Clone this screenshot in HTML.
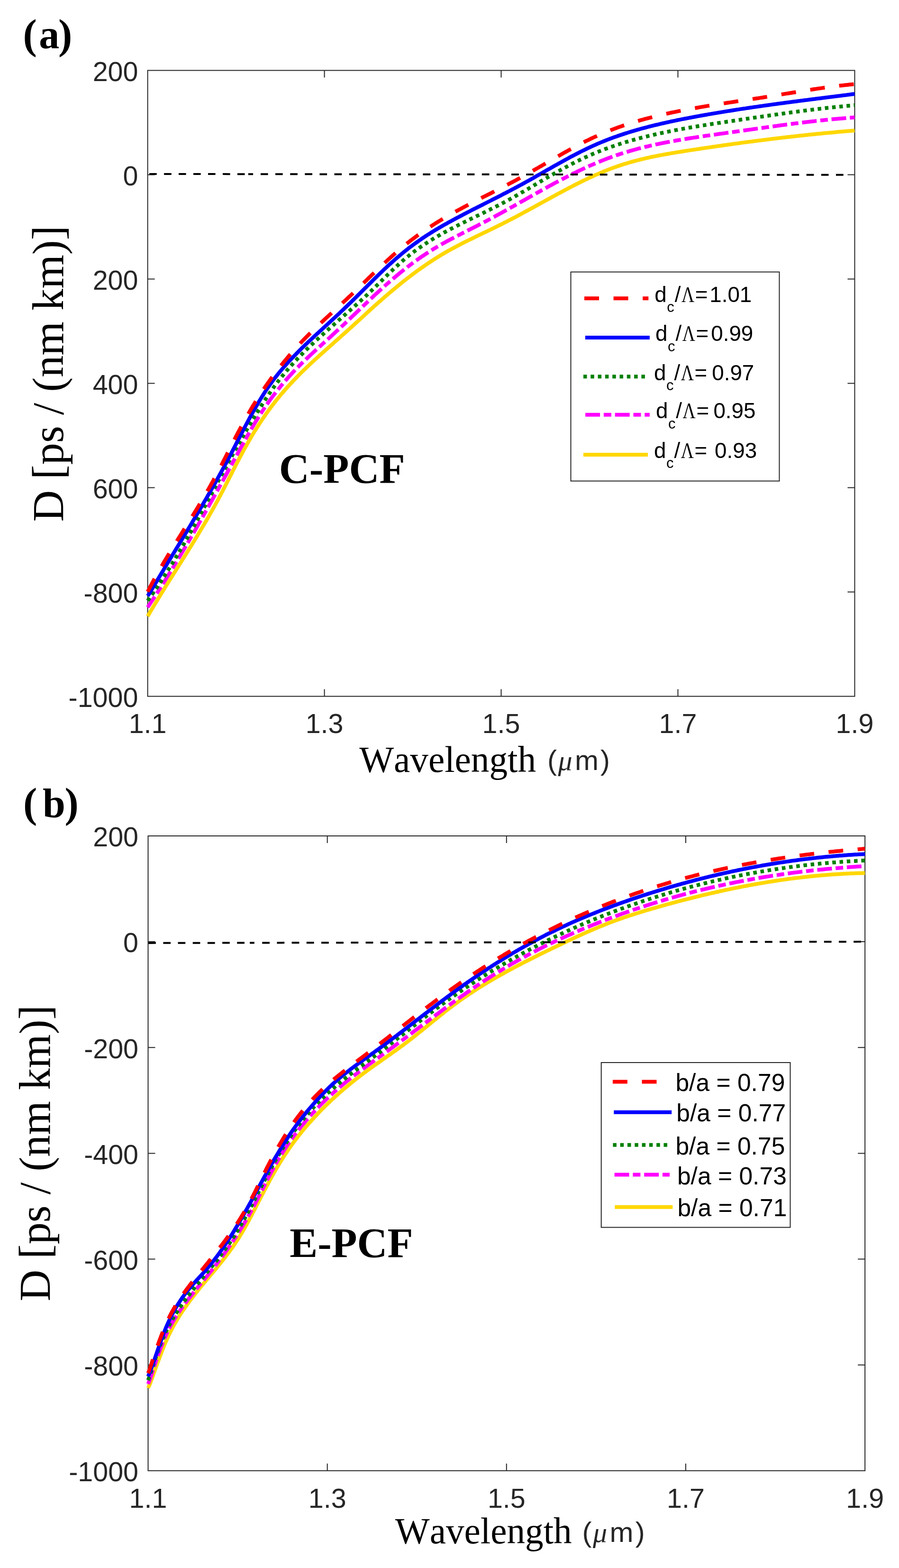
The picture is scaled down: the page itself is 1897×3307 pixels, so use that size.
<!DOCTYPE html>
<html><head><meta charset="utf-8"><title>Dispersion</title><style>html,body{margin:0;padding:0;background:#fff;}svg{display:block;} text{font-kerning:none;}</style></head><body>
<svg xmlns="http://www.w3.org/2000/svg" width="1897" height="3307" viewBox="0 0 1897 3307">
<rect width="1897" height="3307" fill="#fff"/>
<rect x="311.6" y="148.5" width="1491.9" height="1320.1" fill="none" stroke="#262626" stroke-width="2"/>
<path d="M311.6 368.5H326.6M1803.5 368.5H1788.5M311.6 588.5H326.6M1803.5 588.5H1788.5M311.6 808.5H326.6M1803.5 808.5H1788.5M311.6 1028.6H326.6M1803.5 1028.6H1788.5M311.6 1248.6H326.6M1803.5 1248.6H1788.5M684.6 1468.6V1453.6M684.6 148.5V163.5M1057.5 1468.6V1453.6M1057.5 148.5V163.5M1430.5 1468.6V1453.6M1430.5 148.5V163.5" stroke="#262626" stroke-width="2" fill="none"/>
<path d="M311.6 1299.7 L314.6 1294.6 L317.6 1289.5 L320.6 1284.5 L323.6 1279.5 L326.6 1274.5 L329.6 1269.5 L332.6 1264.6 L335.6 1259.7 L338.6 1254.8 L341.6 1250.0 L344.6 1245.1 L347.5 1240.3 L350.5 1235.5 L353.5 1230.7 L356.5 1225.9 L359.5 1221.1 L362.5 1216.3 L365.5 1211.6 L368.5 1206.8 L371.5 1202.1 L374.5 1197.3 L377.5 1192.5 L380.5 1187.8 L383.5 1183.0 L386.5 1178.2 L389.5 1173.4 L392.5 1168.6 L395.5 1163.8 L398.5 1159.0 L401.5 1154.2 L404.5 1149.3 L407.5 1144.5 L410.5 1139.6 L413.5 1134.7 L416.5 1129.8 L419.4 1124.8 L422.4 1119.8 L425.4 1114.8 L428.4 1109.8 L431.4 1104.7 L434.4 1099.6 L437.4 1094.4 L440.4 1089.2 L443.4 1083.9 L446.4 1078.6 L449.4 1073.3 L452.4 1067.9 L455.4 1062.4 L458.4 1056.9 L461.4 1051.3 L464.4 1045.6 L467.4 1039.9 L470.4 1034.2 L473.4 1028.4 L476.4 1022.6 L479.4 1016.7 L482.4 1010.9 L485.4 1005.0 L488.4 999.1 L491.3 993.3 L494.3 987.4 L497.3 981.6 L500.3 975.9 L503.3 970.1 L506.3 964.4 L509.3 958.8 L512.3 953.2 L515.3 947.7 L518.3 942.3 L521.3 936.9 L524.3 931.6 L527.3 926.4 L530.3 921.3 L533.3 916.3 L536.3 911.3 L539.3 906.5 L542.3 901.7 L545.3 897.0 L548.3 892.4 L551.3 887.9 L554.3 883.4 L557.3 879.1 L560.2 874.8 L563.2 870.5 L566.2 866.4 L569.2 862.3 L572.2 858.2 L575.2 854.3 L578.2 850.4 L581.2 846.5 L584.2 842.8 L587.2 839.1 L590.2 835.4 L593.2 831.8 L596.2 828.3 L599.2 824.8 L602.2 821.4 L605.2 818.0 L608.2 814.7 L611.2 811.4 L614.2 808.2 L617.2 805.0 L620.2 801.8 L623.2 798.7 L626.2 795.6 L629.2 792.5 L632.1 789.5 L635.1 786.5 L638.1 783.6 L641.1 780.7 L644.1 777.8 L647.1 774.9 L650.1 772.1 L653.1 769.2 L656.1 766.4 L659.1 763.6 L662.1 760.9 L665.1 758.1 L668.1 755.4 L671.1 752.7 L674.1 749.9 L677.1 747.2 L680.1 744.5 L683.1 741.9 L686.1 739.2 L689.1 736.5 L692.1 733.9 L695.1 731.2 L698.1 728.5 L701.1 725.9 L704.0 723.3 L707.0 720.6 L710.0 718.0 L713.0 715.3 L716.0 712.7 L719.0 710.0 L722.0 707.3 L725.0 704.7 L728.0 702.0 L731.0 699.3 L734.0 696.6 L737.0 693.9 L740.0 691.2 L743.0 688.5 L746.0 685.8 L749.0 683.0 L752.0 680.3 L755.0 677.6 L758.0 674.8 L761.0 672.1 L764.0 669.3 L767.0 666.6 L770.0 663.9 L773.0 661.1 L775.9 658.4 L778.9 655.7 L781.9 652.9 L784.9 650.2 L787.9 647.5 L790.9 644.8 L793.9 642.2 L796.9 639.5 L799.9 636.8 L802.9 634.2 L805.9 631.6 L808.9 629.0 L811.9 626.3 L814.9 623.8 L817.9 621.2 L820.9 618.6 L823.9 616.1 L826.9 613.6 L829.9 611.0 L832.9 608.6 L835.9 606.1 L838.9 603.6 L841.9 601.2 L844.8 598.7 L847.8 596.3 L850.8 593.9 L853.8 591.6 L856.8 589.2 L859.8 586.9 L862.8 584.6 L865.8 582.3 L868.8 580.0 L871.8 577.8 L874.8 575.5 L877.8 573.3 L880.8 571.1 L883.8 569.0 L886.8 566.8 L889.8 564.7 L892.8 562.6 L895.8 560.5 L898.8 558.5 L901.8 556.4 L904.8 554.4 L907.8 552.4 L910.8 550.5 L913.8 548.5 L916.7 546.6 L919.7 544.7 L922.7 542.8 L925.7 541.0 L928.7 539.1 L931.7 537.3 L934.7 535.5 L937.7 533.8 L940.7 532.0 L943.7 530.3 L946.7 528.6 L949.7 527.0 L952.7 525.3 L955.7 523.7 L958.7 522.1 L961.7 520.5 L964.7 518.9 L967.7 517.3 L970.7 515.8 L973.7 514.2 L976.7 512.7 L979.7 511.2 L982.7 509.7 L985.7 508.2 L988.6 506.7 L991.6 505.2 L994.6 503.8 L997.6 502.3 L1000.6 500.8 L1003.6 499.4 L1006.6 497.9 L1009.6 496.5 L1012.6 495.0 L1015.6 493.6 L1018.6 492.2 L1021.6 490.7 L1024.6 489.3 L1027.6 487.8 L1030.6 486.4 L1033.6 485.0 L1036.6 483.5 L1039.6 482.1 L1042.6 480.6 L1045.6 479.1 L1048.6 477.7 L1051.6 476.2 L1054.6 474.7 L1057.6 473.2 L1060.5 471.7 L1063.5 470.2 L1066.5 468.7 L1069.5 467.1 L1072.5 465.6 L1075.5 464.0 L1078.5 462.5 L1081.5 460.9 L1084.5 459.3 L1087.5 457.8 L1090.5 456.2 L1093.5 454.6 L1096.5 453.0 L1099.5 451.4 L1102.5 449.8 L1105.5 448.1 L1108.5 446.5 L1111.5 444.9 L1114.5 443.3 L1117.5 441.6 L1120.5 440.0 L1123.5 438.4 L1126.5 436.7 L1129.4 435.1 L1132.4 433.4 L1135.4 431.8 L1138.4 430.1 L1141.4 428.5 L1144.4 426.8 L1147.4 425.2 L1150.4 423.5 L1153.4 421.9 L1156.4 420.2 L1159.4 418.6 L1162.4 417.0 L1165.4 415.3 L1168.4 413.7 L1171.4 412.1 L1174.4 410.4 L1177.4 408.8 L1180.4 407.2 L1183.4 405.6 L1186.4 404.0 L1189.4 402.4 L1192.4 400.8 L1195.4 399.2 L1198.4 397.6 L1201.3 396.1 L1204.3 394.5 L1207.3 393.0 L1210.3 391.4 L1213.3 389.9 L1216.3 388.4 L1219.3 386.9 L1222.3 385.4 L1225.3 383.9 L1228.3 382.4 L1231.3 380.9 L1234.3 379.5 L1237.3 378.1 L1240.3 376.6 L1243.3 375.2 L1246.3 373.8 L1249.3 372.5 L1252.3 371.1 L1255.3 369.7 L1258.3 368.4 L1261.3 367.1 L1264.3 365.8 L1267.3 364.5 L1270.3 363.3 L1273.2 362.0 L1276.2 360.8 L1279.2 359.6 L1282.2 358.4 L1285.2 357.2 L1288.2 356.1 L1291.2 354.9 L1294.2 353.8 L1297.2 352.7 L1300.2 351.7 L1303.2 350.6 L1306.2 349.6 L1309.2 348.6 L1312.2 347.6 L1315.2 346.6 L1318.2 345.7 L1321.2 344.8 L1324.2 343.9 L1327.2 343.0 L1330.2 342.1 L1333.2 341.3 L1336.2 340.4 L1339.2 339.6 L1342.1 338.8 L1345.1 338.0 L1348.1 337.3 L1351.1 336.5 L1354.1 335.8 L1357.1 335.1 L1360.1 334.4 L1363.1 333.7 L1366.1 333.0 L1369.1 332.3 L1372.1 331.7 L1375.1 331.0 L1378.1 330.4 L1381.1 329.8 L1384.1 329.2 L1387.1 328.6 L1390.1 328.0 L1393.1 327.4 L1396.1 326.9 L1399.1 326.3 L1402.1 325.8 L1405.1 325.2 L1408.1 324.7 L1411.1 324.2 L1414.0 323.6 L1417.0 323.1 L1420.0 322.6 L1423.0 322.1 L1426.0 321.6 L1429.0 321.1 L1432.0 320.6 L1435.0 320.2 L1438.0 319.7 L1441.0 319.2 L1444.0 318.7 L1447.0 318.3 L1450.0 317.8 L1453.0 317.4 L1456.0 316.9 L1459.0 316.4 L1462.0 316.0 L1465.0 315.5 L1468.0 315.1 L1471.0 314.6 L1474.0 314.2 L1477.0 313.7 L1480.0 313.3 L1483.0 312.8 L1485.9 312.4 L1488.9 311.9 L1491.9 311.5 L1494.9 311.1 L1497.9 310.6 L1500.9 310.2 L1503.9 309.7 L1506.9 309.3 L1509.9 308.9 L1512.9 308.4 L1515.9 308.0 L1518.9 307.6 L1521.9 307.2 L1524.9 306.7 L1527.9 306.3 L1530.9 305.9 L1533.9 305.5 L1536.9 305.0 L1539.9 304.6 L1542.9 304.2 L1545.9 303.8 L1548.9 303.4 L1551.9 303.0 L1554.8 302.6 L1557.8 302.2 L1560.8 301.7 L1563.8 301.3 L1566.8 300.9 L1569.8 300.5 L1572.8 300.1 L1575.8 299.7 L1578.8 299.3 L1581.8 299.0 L1584.8 298.6 L1587.8 298.2 L1590.8 297.8 L1593.8 297.4 L1596.8 297.0 L1599.8 296.6 L1602.8 296.2 L1605.8 295.9 L1608.8 295.5 L1611.8 295.1 L1614.8 294.7 L1617.8 294.4 L1620.8 294.0 L1623.8 293.6 L1626.7 293.3 L1629.7 292.9 L1632.7 292.5 L1635.7 292.2 L1638.7 291.8 L1641.7 291.5 L1644.7 291.1 L1647.7 290.7 L1650.7 290.4 L1653.7 290.0 L1656.7 289.7 L1659.7 289.3 L1662.7 289.0 L1665.7 288.7 L1668.7 288.3 L1671.7 288.0 L1674.7 287.7 L1677.7 287.3 L1680.7 287.0 L1683.7 286.7 L1686.7 286.3 L1689.7 286.0 L1692.7 285.7 L1695.7 285.4 L1698.6 285.0 L1701.6 284.7 L1704.6 284.4 L1707.6 284.1 L1710.6 283.8 L1713.6 283.5 L1716.6 283.2 L1719.6 282.9 L1722.6 282.6 L1725.6 282.3 L1728.6 282.0 L1731.6 281.7 L1734.6 281.4 L1737.6 281.1 L1740.6 280.8 L1743.6 280.5 L1746.6 280.3 L1749.6 280.0 L1752.6 279.7 L1755.6 279.4 L1758.6 279.2 L1761.6 278.9 L1764.6 278.6 L1767.6 278.3 L1770.5 278.1 L1773.5 277.8 L1776.5 277.6 L1779.5 277.3 L1782.5 277.1 L1785.5 276.8 L1788.5 276.5 L1791.5 276.3 L1794.5 276.1 L1797.5 275.8 L1800.5 275.6 L1803.5 275.3" stroke="#ffd700" stroke-width="8" fill="none" stroke-linecap="butt" stroke-linejoin="round"/>
<path d="M311.6 1280.7 L314.6 1276.4 L317.6 1271.9 L320.6 1267.3 L323.6 1262.7 L326.6 1258.1 L329.6 1253.5 L332.6 1248.9 L335.6 1244.2 L338.6 1239.5 L341.6 1234.8 L344.6 1230.0 L347.5 1225.3 L350.5 1220.5 L353.5 1215.7 L356.5 1210.8 L359.5 1206.0 L362.5 1201.1 L365.5 1196.2 L368.5 1191.3 L371.5 1186.3 L374.5 1181.4 L377.5 1176.4 L380.5 1171.4 L383.5 1166.4 L386.5 1161.3 L389.5 1156.2 L392.5 1151.2 L395.5 1146.1 L398.5 1140.9 L401.5 1135.8 L404.5 1130.6 L407.5 1125.5 L410.5 1120.3 L413.5 1115.1 L416.5 1109.8 L419.4 1104.6 L422.4 1099.3 L425.4 1094.0 L428.4 1088.8 L431.4 1083.5 L434.4 1078.1 L437.4 1072.8 L440.4 1067.5 L443.4 1062.1 L446.4 1056.7 L449.4 1051.3 L452.4 1046.0 L455.4 1040.6 L458.4 1035.1 L461.4 1029.7 L464.4 1024.3 L467.4 1018.8 L470.4 1013.4 L473.4 1007.9 L476.4 1002.5 L479.4 997.0 L482.4 991.5 L485.4 986.1 L488.4 980.6 L491.3 975.1 L494.3 969.6 L497.3 964.1 L500.3 958.6 L503.3 953.1 L506.3 947.6 L509.3 942.1 L512.3 936.7 L515.3 931.3 L518.3 925.9 L521.3 920.5 L524.3 915.2 L527.3 910.0 L530.3 904.8 L533.3 899.7 L536.3 894.6 L539.3 889.7 L542.3 884.8 L545.3 880.0 L548.3 875.3 L551.3 870.6 L554.3 866.1 L557.3 861.6 L560.2 857.2 L563.2 852.9 L566.2 848.6 L569.2 844.5 L572.2 840.4 L575.2 836.4 L578.2 832.4 L581.2 828.5 L584.2 824.7 L587.2 820.9 L590.2 817.2 L593.2 813.5 L596.2 809.9 L599.2 806.4 L602.2 802.9 L605.2 799.5 L608.2 796.1 L611.2 792.8 L614.2 789.5 L617.2 786.3 L620.2 783.1 L623.2 780.0 L626.2 776.9 L629.2 773.9 L632.1 770.9 L635.1 767.9 L638.1 764.9 L641.1 762.0 L644.1 759.2 L647.1 756.3 L650.1 753.5 L653.1 750.6 L656.1 747.8 L659.1 745.1 L662.1 742.3 L665.1 739.6 L668.1 736.8 L671.1 734.1 L674.1 731.4 L677.1 728.7 L680.1 725.9 L683.1 723.2 L686.1 720.5 L689.1 717.8 L692.1 715.1 L695.1 712.4 L698.1 709.7 L701.1 707.0 L704.0 704.2 L707.0 701.5 L710.0 698.7 L713.0 696.0 L716.0 693.2 L719.0 690.4 L722.0 687.6 L725.0 684.8 L728.0 682.0 L731.0 679.1 L734.0 676.3 L737.0 673.4 L740.0 670.6 L743.0 667.7 L746.0 664.9 L749.0 662.0 L752.0 659.1 L755.0 656.3 L758.0 653.4 L761.0 650.5 L764.0 647.7 L767.0 644.8 L770.0 642.0 L773.0 639.1 L775.9 636.3 L778.9 633.4 L781.9 630.6 L784.9 627.8 L787.9 625.0 L790.9 622.2 L793.9 619.4 L796.9 616.7 L799.9 613.9 L802.9 611.2 L805.9 608.5 L808.9 605.8 L811.9 603.1 L814.9 600.4 L817.9 597.8 L820.9 595.2 L823.9 592.6 L826.9 590.0 L829.9 587.4 L832.9 584.9 L835.9 582.4 L838.9 579.9 L841.9 577.4 L844.8 575.0 L847.8 572.6 L850.8 570.2 L853.8 567.8 L856.8 565.5 L859.8 563.1 L862.8 560.8 L865.8 558.6 L868.8 556.3 L871.8 554.1 L874.8 551.9 L877.8 549.7 L880.8 547.6 L883.8 545.5 L886.8 543.4 L889.8 541.3 L892.8 539.3 L895.8 537.3 L898.8 535.3 L901.8 533.3 L904.8 531.4 L907.8 529.5 L910.8 527.6 L913.8 525.8 L916.7 524.0 L919.7 522.2 L922.7 520.4 L925.7 518.7 L928.7 517.0 L931.7 515.3 L934.7 513.6 L937.7 511.9 L940.7 510.3 L943.7 508.6 L946.7 507.0 L949.7 505.4 L952.7 503.8 L955.7 502.3 L958.7 500.7 L961.7 499.1 L964.7 497.6 L967.7 496.0 L970.7 494.5 L973.7 493.0 L976.7 491.4 L979.7 489.9 L982.7 488.4 L985.7 486.9 L988.6 485.4 L991.6 483.9 L994.6 482.3 L997.6 480.8 L1000.6 479.3 L1003.6 477.8 L1006.6 476.3 L1009.6 474.7 L1012.6 473.2 L1015.6 471.6 L1018.6 470.1 L1021.6 468.5 L1024.6 467.0 L1027.6 465.4 L1030.6 463.8 L1033.6 462.2 L1036.6 460.6 L1039.6 459.0 L1042.6 457.4 L1045.6 455.8 L1048.6 454.1 L1051.6 452.5 L1054.6 450.8 L1057.6 449.2 L1060.5 447.5 L1063.5 445.9 L1066.5 444.2 L1069.5 442.6 L1072.5 440.9 L1075.5 439.2 L1078.5 437.5 L1081.5 435.9 L1084.5 434.2 L1087.5 432.5 L1090.5 430.8 L1093.5 429.1 L1096.5 427.4 L1099.5 425.7 L1102.5 424.0 L1105.5 422.4 L1108.5 420.7 L1111.5 419.0 L1114.5 417.3 L1117.5 415.6 L1120.5 413.9 L1123.5 412.2 L1126.5 410.5 L1129.4 408.9 L1132.4 407.2 L1135.4 405.5 L1138.4 403.9 L1141.4 402.2 L1144.4 400.5 L1147.4 398.9 L1150.4 397.2 L1153.4 395.6 L1156.4 393.9 L1159.4 392.3 L1162.4 390.7 L1165.4 389.0 L1168.4 387.4 L1171.4 385.8 L1174.4 384.2 L1177.4 382.6 L1180.4 381.1 L1183.4 379.5 L1186.4 377.9 L1189.4 376.4 L1192.4 374.8 L1195.4 373.3 L1198.4 371.7 L1201.3 370.2 L1204.3 368.7 L1207.3 367.2 L1210.3 365.7 L1213.3 364.3 L1216.3 362.8 L1219.3 361.3 L1222.3 359.9 L1225.3 358.5 L1228.3 357.1 L1231.3 355.7 L1234.3 354.3 L1237.3 352.9 L1240.3 351.6 L1243.3 350.2 L1246.3 348.9 L1249.3 347.6 L1252.3 346.3 L1255.3 345.0 L1258.3 343.7 L1261.3 342.5 L1264.3 341.2 L1267.3 340.0 L1270.3 338.8 L1273.2 337.6 L1276.2 336.4 L1279.2 335.3 L1282.2 334.1 L1285.2 333.0 L1288.2 331.9 L1291.2 330.8 L1294.2 329.7 L1297.2 328.7 L1300.2 327.6 L1303.2 326.6 L1306.2 325.6 L1309.2 324.6 L1312.2 323.7 L1315.2 322.7 L1318.2 321.8 L1321.2 320.9 L1324.2 320.0 L1327.2 319.1 L1330.2 318.2 L1333.2 317.3 L1336.2 316.5 L1339.2 315.7 L1342.1 314.8 L1345.1 314.0 L1348.1 313.2 L1351.1 312.5 L1354.1 311.7 L1357.1 311.0 L1360.1 310.2 L1363.1 309.5 L1366.1 308.8 L1369.1 308.1 L1372.1 307.4 L1375.1 306.7 L1378.1 306.0 L1381.1 305.4 L1384.1 304.7 L1387.1 304.1 L1390.1 303.4 L1393.1 302.8 L1396.1 302.2 L1399.1 301.6 L1402.1 301.0 L1405.1 300.4 L1408.1 299.8 L1411.1 299.3 L1414.0 298.7 L1417.0 298.1 L1420.0 297.6 L1423.0 297.1 L1426.0 296.5 L1429.0 296.0 L1432.0 295.5 L1435.0 295.0 L1438.0 294.4 L1441.0 293.9 L1444.0 293.4 L1447.0 293.0 L1450.0 292.5 L1453.0 292.0 L1456.0 291.5 L1459.0 291.0 L1462.0 290.6 L1465.0 290.1 L1468.0 289.7 L1471.0 289.2 L1474.0 288.8 L1477.0 288.3 L1480.0 287.9 L1483.0 287.4 L1485.9 287.0 L1488.9 286.5 L1491.9 286.1 L1494.9 285.7 L1497.9 285.3 L1500.9 284.8 L1503.9 284.4 L1506.9 284.0 L1509.9 283.6 L1512.9 283.1 L1515.9 282.7 L1518.9 282.3 L1521.9 281.9 L1524.9 281.5 L1527.9 281.1 L1530.9 280.6 L1533.9 280.2 L1536.9 279.8 L1539.9 279.4 L1542.9 279.0 L1545.9 278.6 L1548.9 278.1 L1551.9 277.7 L1554.8 277.3 L1557.8 276.9 L1560.8 276.4 L1563.8 276.0 L1566.8 275.6 L1569.8 275.2 L1572.8 274.8 L1575.8 274.3 L1578.8 273.9 L1581.8 273.5 L1584.8 273.1 L1587.8 272.6 L1590.8 272.2 L1593.8 271.8 L1596.8 271.4 L1599.8 271.0 L1602.8 270.5 L1605.8 270.1 L1608.8 269.7 L1611.8 269.3 L1614.8 268.9 L1617.8 268.4 L1620.8 268.0 L1623.8 267.6 L1626.7 267.2 L1629.7 266.8 L1632.7 266.4 L1635.7 266.0 L1638.7 265.6 L1641.7 265.1 L1644.7 264.7 L1647.7 264.3 L1650.7 263.9 L1653.7 263.5 L1656.7 263.1 L1659.7 262.7 L1662.7 262.4 L1665.7 262.0 L1668.7 261.6 L1671.7 261.2 L1674.7 260.8 L1677.7 260.4 L1680.7 260.0 L1683.7 259.7 L1686.7 259.3 L1689.7 258.9 L1692.7 258.5 L1695.7 258.2 L1698.6 257.8 L1701.6 257.5 L1704.6 257.1 L1707.6 256.8 L1710.6 256.4 L1713.6 256.1 L1716.6 255.7 L1719.6 255.4 L1722.6 255.0 L1725.6 254.7 L1728.6 254.4 L1731.6 254.0 L1734.6 253.7 L1737.6 253.4 L1740.6 253.1 L1743.6 252.8 L1746.6 252.5 L1749.6 252.2 L1752.6 251.9 L1755.6 251.6 L1758.6 251.3 L1761.6 251.0 L1764.6 250.7 L1767.6 250.5 L1770.5 250.2 L1773.5 249.9 L1776.5 249.7 L1779.5 249.4 L1782.5 249.2 L1785.5 248.9 L1788.5 248.7 L1791.5 248.4 L1794.5 248.2 L1797.5 248.0 L1800.5 247.8 L1803.5 247.5" stroke="#ff00ff" stroke-width="8" fill="none" stroke-linecap="butt" stroke-linejoin="round" stroke-dasharray="31 7.8 16 7.8" stroke-dashoffset="4"/>
<path d="M311.6 1266.9 L314.6 1262.7 L317.6 1258.5 L320.6 1254.2 L323.6 1249.9 L326.6 1245.6 L329.6 1241.2 L332.6 1236.7 L335.6 1232.3 L338.6 1227.7 L341.6 1223.2 L344.6 1218.6 L347.5 1213.9 L350.5 1209.2 L353.5 1204.5 L356.5 1199.7 L359.5 1194.9 L362.5 1190.1 L365.5 1185.2 L368.5 1180.2 L371.5 1175.2 L374.5 1170.2 L377.5 1165.2 L380.5 1160.1 L383.5 1155.0 L386.5 1149.8 L389.5 1144.6 L392.5 1139.4 L395.5 1134.1 L398.5 1128.8 L401.5 1123.5 L404.5 1118.2 L407.5 1112.8 L410.5 1107.4 L413.5 1101.9 L416.5 1096.5 L419.4 1091.0 L422.4 1085.5 L425.4 1080.0 L428.4 1074.5 L431.4 1069.0 L434.4 1063.4 L437.4 1057.9 L440.4 1052.3 L443.4 1046.7 L446.4 1041.1 L449.4 1035.6 L452.4 1030.0 L455.4 1024.4 L458.4 1018.8 L461.4 1013.2 L464.4 1007.6 L467.4 1002.1 L470.4 996.5 L473.4 991.0 L476.4 985.5 L479.4 979.9 L482.4 974.4 L485.4 969.0 L488.4 963.5 L491.3 958.1 L494.3 952.7 L497.3 947.3 L500.3 941.9 L503.3 936.6 L506.3 931.3 L509.3 926.0 L512.3 920.8 L515.3 915.5 L518.3 910.4 L521.3 905.2 L524.3 900.1 L527.3 895.0 L530.3 890.0 L533.3 885.0 L536.3 880.1 L539.3 875.1 L542.3 870.3 L545.3 865.4 L548.3 860.7 L551.3 855.9 L554.3 851.3 L557.3 846.6 L560.2 842.1 L563.2 837.6 L566.2 833.1 L569.2 828.8 L572.2 824.4 L575.2 820.2 L578.2 816.0 L581.2 811.9 L584.2 807.9 L587.2 803.9 L590.2 800.0 L593.2 796.2 L596.2 792.4 L599.2 788.7 L602.2 785.1 L605.2 781.6 L608.2 778.1 L611.2 774.7 L614.2 771.3 L617.2 768.0 L620.2 764.7 L623.2 761.5 L626.2 758.3 L629.2 755.1 L632.1 752.0 L635.1 749.0 L638.1 745.9 L641.1 742.9 L644.1 740.0 L647.1 737.0 L650.1 734.1 L653.1 731.2 L656.1 728.4 L659.1 725.5 L662.1 722.7 L665.1 719.9 L668.1 717.1 L671.1 714.4 L674.1 711.6 L677.1 708.9 L680.1 706.2 L683.1 703.5 L686.1 700.8 L689.1 698.1 L692.1 695.5 L695.1 692.8 L698.1 690.1 L701.1 687.5 L704.0 684.9 L707.0 682.2 L710.0 679.6 L713.0 677.0 L716.0 674.3 L719.0 671.7 L722.0 669.1 L725.0 666.4 L728.0 663.8 L731.0 661.2 L734.0 658.5 L737.0 655.9 L740.0 653.2 L743.0 650.6 L746.0 647.9 L749.0 645.2 L752.0 642.5 L755.0 639.8 L758.0 637.1 L761.0 634.4 L764.0 631.6 L767.0 628.9 L770.0 626.1 L773.0 623.3 L775.9 620.5 L778.9 617.6 L781.9 614.8 L784.9 611.9 L787.9 609.0 L790.9 606.1 L793.9 603.1 L796.9 600.2 L799.9 597.2 L802.9 594.3 L805.9 591.3 L808.9 588.4 L811.9 585.4 L814.9 582.5 L817.9 579.5 L820.9 576.6 L823.9 573.7 L826.9 570.9 L829.9 568.0 L832.9 565.2 L835.9 562.4 L838.9 559.7 L841.9 557.0 L844.8 554.3 L847.8 551.7 L850.8 549.1 L853.8 546.5 L856.8 544.0 L859.8 541.6 L862.8 539.2 L865.8 536.8 L868.8 534.5 L871.8 532.2 L874.8 529.9 L877.8 527.7 L880.8 525.6 L883.8 523.5 L886.8 521.4 L889.8 519.3 L892.8 517.3 L895.8 515.3 L898.8 513.3 L901.8 511.4 L904.8 509.5 L907.8 507.6 L910.8 505.8 L913.8 503.9 L916.7 502.1 L919.7 500.3 L922.7 498.6 L925.7 496.9 L928.7 495.2 L931.7 493.5 L934.7 491.8 L937.7 490.1 L940.7 488.5 L943.7 486.9 L946.7 485.3 L949.7 483.7 L952.7 482.1 L955.7 480.6 L958.7 479.0 L961.7 477.5 L964.7 476.0 L967.7 474.5 L970.7 473.0 L973.7 471.5 L976.7 470.0 L979.7 468.5 L982.7 467.1 L985.7 465.6 L988.6 464.1 L991.6 462.7 L994.6 461.2 L997.6 459.8 L1000.6 458.3 L1003.6 456.9 L1006.6 455.4 L1009.6 454.0 L1012.6 452.5 L1015.6 451.0 L1018.6 449.6 L1021.6 448.1 L1024.6 446.7 L1027.6 445.2 L1030.6 443.7 L1033.6 442.2 L1036.6 440.7 L1039.6 439.2 L1042.6 437.7 L1045.6 436.2 L1048.6 434.7 L1051.6 433.2 L1054.6 431.6 L1057.6 430.0 L1060.5 428.5 L1063.5 426.9 L1066.5 425.3 L1069.5 423.6 L1072.5 422.0 L1075.5 420.4 L1078.5 418.7 L1081.5 417.0 L1084.5 415.4 L1087.5 413.7 L1090.5 412.0 L1093.5 410.3 L1096.5 408.6 L1099.5 406.8 L1102.5 405.1 L1105.5 403.4 L1108.5 401.6 L1111.5 399.9 L1114.5 398.2 L1117.5 396.4 L1120.5 394.6 L1123.5 392.9 L1126.5 391.1 L1129.4 389.4 L1132.4 387.6 L1135.4 385.9 L1138.4 384.1 L1141.4 382.3 L1144.4 380.6 L1147.4 378.8 L1150.4 377.1 L1153.4 375.3 L1156.4 373.6 L1159.4 371.9 L1162.4 370.2 L1165.4 368.4 L1168.4 366.7 L1171.4 365.0 L1174.4 363.3 L1177.4 361.6 L1180.4 360.0 L1183.4 358.3 L1186.4 356.6 L1189.4 355.0 L1192.4 353.4 L1195.4 351.8 L1198.4 350.2 L1201.3 348.6 L1204.3 347.0 L1207.3 345.4 L1210.3 343.9 L1213.3 342.4 L1216.3 340.9 L1219.3 339.4 L1222.3 337.9 L1225.3 336.4 L1228.3 335.0 L1231.3 333.6 L1234.3 332.2 L1237.3 330.8 L1240.3 329.4 L1243.3 328.1 L1246.3 326.8 L1249.3 325.5 L1252.3 324.2 L1255.3 322.9 L1258.3 321.7 L1261.3 320.5 L1264.3 319.3 L1267.3 318.1 L1270.3 316.9 L1273.2 315.8 L1276.2 314.6 L1279.2 313.5 L1282.2 312.4 L1285.2 311.3 L1288.2 310.3 L1291.2 309.2 L1294.2 308.2 L1297.2 307.2 L1300.2 306.2 L1303.2 305.2 L1306.2 304.2 L1309.2 303.2 L1312.2 302.3 L1315.2 301.3 L1318.2 300.4 L1321.2 299.5 L1324.2 298.6 L1327.2 297.7 L1330.2 296.9 L1333.2 296.0 L1336.2 295.2 L1339.2 294.3 L1342.1 293.5 L1345.1 292.7 L1348.1 291.9 L1351.1 291.1 L1354.1 290.3 L1357.1 289.6 L1360.1 288.8 L1363.1 288.1 L1366.1 287.3 L1369.1 286.6 L1372.1 285.9 L1375.1 285.2 L1378.1 284.5 L1381.1 283.8 L1384.1 283.1 L1387.1 282.4 L1390.1 281.8 L1393.1 281.1 L1396.1 280.5 L1399.1 279.8 L1402.1 279.2 L1405.1 278.6 L1408.1 278.0 L1411.1 277.4 L1414.0 276.8 L1417.0 276.2 L1420.0 275.6 L1423.0 275.0 L1426.0 274.4 L1429.0 273.9 L1432.0 273.3 L1435.0 272.7 L1438.0 272.2 L1441.0 271.6 L1444.0 271.1 L1447.0 270.6 L1450.0 270.0 L1453.0 269.5 L1456.0 269.0 L1459.0 268.5 L1462.0 268.0 L1465.0 267.5 L1468.0 267.0 L1471.0 266.5 L1474.0 266.0 L1477.0 265.5 L1480.0 265.0 L1483.0 264.5 L1485.9 264.1 L1488.9 263.6 L1491.9 263.1 L1494.9 262.6 L1497.9 262.2 L1500.9 261.7 L1503.9 261.2 L1506.9 260.8 L1509.9 260.3 L1512.9 259.9 L1515.9 259.4 L1518.9 259.0 L1521.9 258.5 L1524.9 258.1 L1527.9 257.6 L1530.9 257.2 L1533.9 256.7 L1536.9 256.3 L1539.9 255.9 L1542.9 255.4 L1545.9 255.0 L1548.9 254.5 L1551.9 254.1 L1554.8 253.6 L1557.8 253.2 L1560.8 252.8 L1563.8 252.3 L1566.8 251.9 L1569.8 251.4 L1572.8 251.0 L1575.8 250.5 L1578.8 250.1 L1581.8 249.7 L1584.8 249.2 L1587.8 248.8 L1590.8 248.3 L1593.8 247.9 L1596.8 247.5 L1599.8 247.0 L1602.8 246.6 L1605.8 246.1 L1608.8 245.7 L1611.8 245.3 L1614.8 244.8 L1617.8 244.4 L1620.8 244.0 L1623.8 243.5 L1626.7 243.1 L1629.7 242.7 L1632.7 242.2 L1635.7 241.8 L1638.7 241.4 L1641.7 241.0 L1644.7 240.5 L1647.7 240.1 L1650.7 239.7 L1653.7 239.3 L1656.7 238.9 L1659.7 238.4 L1662.7 238.0 L1665.7 237.6 L1668.7 237.2 L1671.7 236.8 L1674.7 236.4 L1677.7 236.0 L1680.7 235.6 L1683.7 235.2 L1686.7 234.8 L1689.7 234.4 L1692.7 234.0 L1695.7 233.6 L1698.6 233.3 L1701.6 232.9 L1704.6 232.5 L1707.6 232.1 L1710.6 231.7 L1713.6 231.4 L1716.6 231.0 L1719.6 230.6 L1722.6 230.3 L1725.6 229.9 L1728.6 229.6 L1731.6 229.2 L1734.6 228.9 L1737.6 228.5 L1740.6 228.2 L1743.6 227.8 L1746.6 227.5 L1749.6 227.2 L1752.6 226.8 L1755.6 226.5 L1758.6 226.2 L1761.6 225.9 L1764.6 225.6 L1767.6 225.3 L1770.5 225.0 L1773.5 224.7 L1776.5 224.4 L1779.5 224.1 L1782.5 223.8 L1785.5 223.5 L1788.5 223.2 L1791.5 222.9 L1794.5 222.7 L1797.5 222.4 L1800.5 222.1 L1803.5 221.9" stroke="#008000" stroke-width="8" fill="none" stroke-linecap="butt" stroke-linejoin="round" stroke-dasharray="7.5 7.8"/>
<path d="M311.6 1256.8 L314.6 1252.7 L317.6 1247.6 L320.6 1242.6 L323.6 1237.6 L326.6 1232.6 L329.6 1227.6 L332.6 1222.6 L335.6 1217.6 L338.6 1212.6 L341.6 1207.7 L344.6 1202.7 L347.5 1197.7 L350.5 1192.8 L353.5 1187.8 L356.5 1182.9 L359.5 1177.9 L362.5 1173.0 L365.5 1168.0 L368.5 1163.1 L371.5 1158.2 L374.5 1153.2 L377.5 1148.3 L380.5 1143.3 L383.5 1138.3 L386.5 1133.4 L389.5 1128.4 L392.5 1123.4 L395.5 1118.5 L398.5 1113.5 L401.5 1108.5 L404.5 1103.5 L407.5 1098.4 L410.5 1093.4 L413.5 1088.4 L416.5 1083.3 L419.4 1078.2 L422.4 1073.2 L425.4 1068.1 L428.4 1062.9 L431.4 1057.8 L434.4 1052.7 L437.4 1047.5 L440.4 1042.3 L443.4 1037.1 L446.4 1031.8 L449.4 1026.6 L452.4 1021.3 L455.4 1016.0 L458.4 1010.6 L461.4 1005.2 L464.4 999.8 L467.4 994.4 L470.4 988.9 L473.4 983.4 L476.4 977.9 L479.4 972.3 L482.4 966.7 L485.4 961.0 L488.4 955.3 L491.3 949.6 L494.3 943.8 L497.3 938.0 L500.3 932.2 L503.3 926.4 L506.3 920.6 L509.3 914.8 L512.3 909.0 L515.3 903.2 L518.3 897.5 L521.3 891.9 L524.3 886.3 L527.3 880.7 L530.3 875.2 L533.3 869.8 L536.3 864.5 L539.3 859.2 L542.3 854.1 L545.3 849.0 L548.3 844.0 L551.3 839.2 L554.3 834.4 L557.3 829.7 L560.2 825.1 L563.2 820.6 L566.2 816.2 L569.2 811.9 L572.2 807.8 L575.2 803.7 L578.2 799.7 L581.2 795.8 L584.2 792.0 L587.2 788.2 L590.2 784.6 L593.2 781.0 L596.2 777.5 L599.2 774.0 L602.2 770.6 L605.2 767.3 L608.2 764.0 L611.2 760.8 L614.2 757.6 L617.2 754.4 L620.2 751.3 L623.2 748.2 L626.2 745.1 L629.2 742.1 L632.1 739.1 L635.1 736.2 L638.1 733.2 L641.1 730.3 L644.1 727.4 L647.1 724.6 L650.1 721.7 L653.1 718.9 L656.1 716.1 L659.1 713.3 L662.1 710.5 L665.1 707.7 L668.1 704.9 L671.1 702.2 L674.1 699.4 L677.1 696.7 L680.1 693.9 L683.1 691.2 L686.1 688.4 L689.1 685.7 L692.1 682.9 L695.1 680.2 L698.1 677.4 L701.1 674.7 L704.0 671.9 L707.0 669.2 L710.0 666.4 L713.0 663.6 L716.0 660.8 L719.0 657.9 L722.0 655.1 L725.0 652.3 L728.0 649.4 L731.0 646.5 L734.0 643.6 L737.0 640.7 L740.0 637.8 L743.0 634.9 L746.0 632.0 L749.0 629.0 L752.0 626.1 L755.0 623.1 L758.0 620.1 L761.0 617.2 L764.0 614.2 L767.0 611.2 L770.0 608.2 L773.0 605.3 L775.9 602.3 L778.9 599.3 L781.9 596.3 L784.9 593.3 L787.9 590.4 L790.9 587.4 L793.9 584.5 L796.9 581.5 L799.9 578.6 L802.9 575.7 L805.9 572.8 L808.9 569.9 L811.9 567.1 L814.9 564.3 L817.9 561.5 L820.9 558.7 L823.9 556.0 L826.9 553.3 L829.9 550.6 L832.9 547.9 L835.9 545.3 L838.9 542.7 L841.9 540.2 L844.8 537.7 L847.8 535.2 L850.8 532.7 L853.8 530.3 L856.8 527.9 L859.8 525.6 L862.8 523.2 L865.8 520.9 L868.8 518.7 L871.8 516.4 L874.8 514.2 L877.8 512.1 L880.8 509.9 L883.8 507.8 L886.8 505.7 L889.8 503.6 L892.8 501.6 L895.8 499.6 L898.8 497.6 L901.8 495.7 L904.8 493.8 L907.8 491.9 L910.8 490.0 L913.8 488.1 L916.7 486.3 L919.7 484.5 L922.7 482.7 L925.7 481.0 L928.7 479.2 L931.7 477.5 L934.7 475.7 L937.7 474.0 L940.7 472.4 L943.7 470.7 L946.7 469.0 L949.7 467.4 L952.7 465.7 L955.7 464.1 L958.7 462.5 L961.7 460.9 L964.7 459.3 L967.7 457.7 L970.7 456.1 L973.7 454.6 L976.7 453.0 L979.7 451.4 L982.7 449.9 L985.7 448.3 L988.6 446.8 L991.6 445.3 L994.6 443.7 L997.6 442.2 L1000.6 440.7 L1003.6 439.2 L1006.6 437.6 L1009.6 436.1 L1012.6 434.6 L1015.6 433.1 L1018.6 431.6 L1021.6 430.0 L1024.6 428.5 L1027.6 427.0 L1030.6 425.5 L1033.6 424.0 L1036.6 422.5 L1039.6 420.9 L1042.6 419.4 L1045.6 417.9 L1048.6 416.4 L1051.6 414.9 L1054.6 413.3 L1057.6 411.8 L1060.5 410.2 L1063.5 408.7 L1066.5 407.2 L1069.5 405.6 L1072.5 404.0 L1075.5 402.5 L1078.5 400.9 L1081.5 399.3 L1084.5 397.7 L1087.5 396.1 L1090.5 394.5 L1093.5 392.9 L1096.5 391.3 L1099.5 389.7 L1102.5 388.1 L1105.5 386.4 L1108.5 384.8 L1111.5 383.1 L1114.5 381.4 L1117.5 379.7 L1120.5 378.1 L1123.5 376.4 L1126.5 374.7 L1129.4 373.0 L1132.4 371.3 L1135.4 369.6 L1138.4 367.9 L1141.4 366.2 L1144.4 364.5 L1147.4 362.7 L1150.4 361.0 L1153.4 359.3 L1156.4 357.6 L1159.4 355.9 L1162.4 354.2 L1165.4 352.5 L1168.4 350.8 L1171.4 349.1 L1174.4 347.4 L1177.4 345.7 L1180.4 344.1 L1183.4 342.4 L1186.4 340.7 L1189.4 339.1 L1192.4 337.4 L1195.4 335.8 L1198.4 334.2 L1201.3 332.5 L1204.3 330.9 L1207.3 329.3 L1210.3 327.8 L1213.3 326.2 L1216.3 324.6 L1219.3 323.1 L1222.3 321.6 L1225.3 320.0 L1228.3 318.5 L1231.3 317.1 L1234.3 315.6 L1237.3 314.1 L1240.3 312.7 L1243.3 311.3 L1246.3 309.9 L1249.3 308.5 L1252.3 307.1 L1255.3 305.8 L1258.3 304.5 L1261.3 303.2 L1264.3 301.9 L1267.3 300.6 L1270.3 299.4 L1273.2 298.2 L1276.2 297.0 L1279.2 295.8 L1282.2 294.6 L1285.2 293.5 L1288.2 292.3 L1291.2 291.2 L1294.2 290.1 L1297.2 289.0 L1300.2 288.0 L1303.2 286.9 L1306.2 285.9 L1309.2 284.9 L1312.2 283.9 L1315.2 282.9 L1318.2 281.9 L1321.2 280.9 L1324.2 280.0 L1327.2 279.0 L1330.2 278.1 L1333.2 277.2 L1336.2 276.3 L1339.2 275.4 L1342.1 274.6 L1345.1 273.7 L1348.1 272.8 L1351.1 272.0 L1354.1 271.2 L1357.1 270.4 L1360.1 269.6 L1363.1 268.8 L1366.1 268.0 L1369.1 267.2 L1372.1 266.5 L1375.1 265.7 L1378.1 265.0 L1381.1 264.2 L1384.1 263.5 L1387.1 262.8 L1390.1 262.1 L1393.1 261.4 L1396.1 260.7 L1399.1 260.0 L1402.1 259.3 L1405.1 258.6 L1408.1 258.0 L1411.1 257.3 L1414.0 256.7 L1417.0 256.0 L1420.0 255.4 L1423.0 254.8 L1426.0 254.2 L1429.0 253.5 L1432.0 252.9 L1435.0 252.3 L1438.0 251.7 L1441.0 251.1 L1444.0 250.5 L1447.0 250.0 L1450.0 249.4 L1453.0 248.8 L1456.0 248.2 L1459.0 247.7 L1462.0 247.1 L1465.0 246.5 L1468.0 246.0 L1471.0 245.4 L1474.0 244.9 L1477.0 244.3 L1480.0 243.8 L1483.0 243.3 L1485.9 242.7 L1488.9 242.2 L1491.9 241.7 L1494.9 241.1 L1497.9 240.6 L1500.9 240.1 L1503.9 239.6 L1506.9 239.1 L1509.9 238.6 L1512.9 238.1 L1515.9 237.6 L1518.9 237.1 L1521.9 236.6 L1524.9 236.1 L1527.9 235.6 L1530.9 235.1 L1533.9 234.6 L1536.9 234.1 L1539.9 233.7 L1542.9 233.2 L1545.9 232.7 L1548.9 232.2 L1551.9 231.8 L1554.8 231.3 L1557.8 230.9 L1560.8 230.4 L1563.8 229.9 L1566.8 229.5 L1569.8 229.0 L1572.8 228.6 L1575.8 228.1 L1578.8 227.7 L1581.8 227.3 L1584.8 226.8 L1587.8 226.4 L1590.8 225.9 L1593.8 225.5 L1596.8 225.1 L1599.8 224.6 L1602.8 224.2 L1605.8 223.8 L1608.8 223.4 L1611.8 222.9 L1614.8 222.5 L1617.8 222.1 L1620.8 221.7 L1623.8 221.3 L1626.7 220.9 L1629.7 220.4 L1632.7 220.0 L1635.7 219.6 L1638.7 219.2 L1641.7 218.8 L1644.7 218.4 L1647.7 218.0 L1650.7 217.6 L1653.7 217.2 L1656.7 216.8 L1659.7 216.4 L1662.7 216.0 L1665.7 215.6 L1668.7 215.2 L1671.7 214.8 L1674.7 214.4 L1677.7 214.1 L1680.7 213.7 L1683.7 213.3 L1686.7 212.9 L1689.7 212.5 L1692.7 212.1 L1695.7 211.7 L1698.6 211.3 L1701.6 211.0 L1704.6 210.6 L1707.6 210.2 L1710.6 209.8 L1713.6 209.4 L1716.6 209.1 L1719.6 208.7 L1722.6 208.3 L1725.6 207.9 L1728.6 207.5 L1731.6 207.2 L1734.6 206.8 L1737.6 206.4 L1740.6 206.0 L1743.6 205.6 L1746.6 205.3 L1749.6 204.9 L1752.6 204.5 L1755.6 204.1 L1758.6 203.8 L1761.6 203.4 L1764.6 203.0 L1767.6 202.6 L1770.5 202.2 L1773.5 201.9 L1776.5 201.5 L1779.5 201.1 L1782.5 200.7 L1785.5 200.4 L1788.5 200.0 L1791.5 199.6 L1794.5 199.2 L1797.5 198.8 L1800.5 198.4 L1803.5 198.1" stroke="#0000ff" stroke-width="8" fill="none" stroke-linecap="butt" stroke-linejoin="round"/>
<path d="M311.6 1247.9 L314.6 1242.1 L317.6 1236.3 L320.6 1230.6 L323.6 1225.1 L326.6 1219.6 L329.6 1214.2 L332.6 1208.8 L335.6 1203.6 L338.6 1198.4 L341.6 1193.2 L344.6 1188.1 L347.5 1183.0 L350.5 1178.0 L353.5 1173.0 L356.5 1168.1 L359.5 1163.2 L362.5 1158.3 L365.5 1153.4 L368.5 1148.6 L371.5 1143.7 L374.5 1138.9 L377.5 1134.1 L380.5 1129.3 L383.5 1124.5 L386.5 1119.7 L389.5 1114.9 L392.5 1110.2 L395.5 1105.4 L398.5 1100.6 L401.5 1095.8 L404.5 1090.9 L407.5 1086.1 L410.5 1081.2 L413.5 1076.3 L416.5 1071.4 L419.4 1066.5 L422.4 1061.5 L425.4 1056.5 L428.4 1051.4 L431.4 1046.3 L434.4 1041.2 L437.4 1036.0 L440.4 1030.7 L443.4 1025.4 L446.4 1020.0 L449.4 1014.6 L452.4 1009.0 L455.4 1003.4 L458.4 997.8 L461.4 992.1 L464.4 986.3 L467.4 980.5 L470.4 974.7 L473.4 968.8 L476.4 963.0 L479.4 957.1 L482.4 951.2 L485.4 945.3 L488.4 939.4 L491.3 933.5 L494.3 927.7 L497.3 921.9 L500.3 916.2 L503.3 910.4 L506.3 904.8 L509.3 899.2 L512.3 893.6 L515.3 888.1 L518.3 882.7 L521.3 877.4 L524.3 872.2 L527.3 867.0 L530.3 861.9 L533.3 856.9 L536.3 852.0 L539.3 847.1 L542.3 842.3 L545.3 837.6 L548.3 833.0 L551.3 828.4 L554.3 823.9 L557.3 819.4 L560.2 815.1 L563.2 810.7 L566.2 806.5 L569.2 802.3 L572.2 798.1 L575.2 794.0 L578.2 790.0 L581.2 786.0 L584.2 782.1 L587.2 778.2 L590.2 774.4 L593.2 770.6 L596.2 766.9 L599.2 763.2 L602.2 759.6 L605.2 756.0 L608.2 752.4 L611.2 748.9 L614.2 745.5 L617.2 742.1 L620.2 738.7 L623.2 735.3 L626.2 732.1 L629.2 728.8 L632.1 725.6 L635.1 722.4 L638.1 719.3 L641.1 716.2 L644.1 713.1 L647.1 710.1 L650.1 707.1 L653.1 704.1 L656.1 701.2 L659.1 698.2 L662.1 695.3 L665.1 692.5 L668.1 689.6 L671.1 686.7 L674.1 683.9 L677.1 681.1 L680.1 678.3 L683.1 675.5 L686.1 672.7 L689.1 669.9 L692.1 667.2 L695.1 664.4 L698.1 661.7 L701.1 658.9 L704.0 656.2 L707.0 653.4 L710.0 650.7 L713.0 647.9 L716.0 645.2 L719.0 642.4 L722.0 639.7 L725.0 636.9 L728.0 634.1 L731.0 631.3 L734.0 628.5 L737.0 625.7 L740.0 622.9 L743.0 620.1 L746.0 617.2 L749.0 614.4 L752.0 611.5 L755.0 608.6 L758.0 605.8 L761.0 602.9 L764.0 600.0 L767.0 597.1 L770.0 594.2 L773.0 591.3 L775.9 588.4 L778.9 585.5 L781.9 582.6 L784.9 579.7 L787.9 576.8 L790.9 574.0 L793.9 571.1 L796.9 568.2 L799.9 565.4 L802.9 562.6 L805.9 559.7 L808.9 556.9 L811.9 554.1 L814.9 551.4 L817.9 548.6 L820.9 545.9 L823.9 543.2 L826.9 540.5 L829.9 537.8 L832.9 535.2 L835.9 532.6 L838.9 530.0 L841.9 527.4 L844.8 524.9 L847.8 522.4 L850.8 519.9 L853.8 517.4 L856.8 515.0 L859.8 512.6 L862.8 510.3 L865.8 507.9 L868.8 505.6 L871.8 503.4 L874.8 501.1 L877.8 498.9 L880.8 496.7 L883.8 494.6 L886.8 492.5 L889.8 490.4 L892.8 488.3 L895.8 486.2 L898.8 484.2 L901.8 482.2 L904.8 480.2 L907.8 478.2 L910.8 476.3 L913.8 474.4 L916.7 472.5 L919.7 470.6 L922.7 468.7 L925.7 466.9 L928.7 465.1 L931.7 463.3 L934.7 461.5 L937.7 459.7 L940.7 458.0 L943.7 456.2 L946.7 454.5 L949.7 452.8 L952.7 451.1 L955.7 449.4 L958.7 447.8 L961.7 446.1 L964.7 444.5 L967.7 442.8 L970.7 441.2 L973.7 439.6 L976.7 438.0 L979.7 436.4 L982.7 434.8 L985.7 433.2 L988.6 431.7 L991.6 430.1 L994.6 428.5 L997.6 427.0 L1000.6 425.4 L1003.6 423.9 L1006.6 422.3 L1009.6 420.8 L1012.6 419.3 L1015.6 417.7 L1018.6 416.2 L1021.6 414.7 L1024.6 413.2 L1027.6 411.6 L1030.6 410.1 L1033.6 408.6 L1036.6 407.1 L1039.6 405.5 L1042.6 404.0 L1045.6 402.5 L1048.6 401.0 L1051.6 399.4 L1054.6 397.9 L1057.6 396.3 L1060.5 394.8 L1063.5 393.3 L1066.5 391.7 L1069.5 390.1 L1072.5 388.6 L1075.5 387.0 L1078.5 385.4 L1081.5 383.9 L1084.5 382.3 L1087.5 380.7 L1090.5 379.1 L1093.5 377.4 L1096.5 375.8 L1099.5 374.2 L1102.5 372.5 L1105.5 370.9 L1108.5 369.2 L1111.5 367.5 L1114.5 365.9 L1117.5 364.2 L1120.5 362.5 L1123.5 360.8 L1126.5 359.0 L1129.4 357.3 L1132.4 355.6 L1135.4 353.9 L1138.4 352.1 L1141.4 350.4 L1144.4 348.7 L1147.4 346.9 L1150.4 345.2 L1153.4 343.5 L1156.4 341.7 L1159.4 340.0 L1162.4 338.3 L1165.4 336.5 L1168.4 334.8 L1171.4 333.1 L1174.4 331.3 L1177.4 329.6 L1180.4 327.9 L1183.4 326.2 L1186.4 324.5 L1189.4 322.8 L1192.4 321.1 L1195.4 319.5 L1198.4 317.8 L1201.3 316.1 L1204.3 314.5 L1207.3 312.9 L1210.3 311.2 L1213.3 309.6 L1216.3 308.0 L1219.3 306.4 L1222.3 304.9 L1225.3 303.3 L1228.3 301.8 L1231.3 300.2 L1234.3 298.7 L1237.3 297.2 L1240.3 295.8 L1243.3 294.3 L1246.3 292.9 L1249.3 291.4 L1252.3 290.0 L1255.3 288.6 L1258.3 287.3 L1261.3 285.9 L1264.3 284.6 L1267.3 283.3 L1270.3 282.0 L1273.2 280.7 L1276.2 279.5 L1279.2 278.3 L1282.2 277.0 L1285.2 275.9 L1288.2 274.7 L1291.2 273.5 L1294.2 272.4 L1297.2 271.3 L1300.2 270.2 L1303.2 269.1 L1306.2 268.0 L1309.2 267.0 L1312.2 265.9 L1315.2 264.9 L1318.2 263.9 L1321.2 262.9 L1324.2 261.9 L1327.2 261.0 L1330.2 260.0 L1333.2 259.1 L1336.2 258.2 L1339.2 257.2 L1342.1 256.3 L1345.1 255.5 L1348.1 254.6 L1351.1 253.7 L1354.1 252.9 L1357.1 252.1 L1360.1 251.2 L1363.1 250.4 L1366.1 249.6 L1369.1 248.8 L1372.1 248.1 L1375.1 247.3 L1378.1 246.5 L1381.1 245.8 L1384.1 245.0 L1387.1 244.3 L1390.1 243.6 L1393.1 242.9 L1396.1 242.2 L1399.1 241.5 L1402.1 240.8 L1405.1 240.1 L1408.1 239.5 L1411.1 238.8 L1414.0 238.2 L1417.0 237.5 L1420.0 236.9 L1423.0 236.3 L1426.0 235.7 L1429.0 235.1 L1432.0 234.4 L1435.0 233.9 L1438.0 233.3 L1441.0 232.7 L1444.0 232.1 L1447.0 231.5 L1450.0 231.0 L1453.0 230.4 L1456.0 229.9 L1459.0 229.3 L1462.0 228.8 L1465.0 228.2 L1468.0 227.7 L1471.0 227.2 L1474.0 226.7 L1477.0 226.1 L1480.0 225.6 L1483.0 225.1 L1485.9 224.6 L1488.9 224.1 L1491.9 223.6 L1494.9 223.1 L1497.9 222.6 L1500.9 222.2 L1503.9 221.7 L1506.9 221.2 L1509.9 220.7 L1512.9 220.2 L1515.9 219.8 L1518.9 219.3 L1521.9 218.8 L1524.9 218.4 L1527.9 217.9 L1530.9 217.5 L1533.9 217.0 L1536.9 216.5 L1539.9 216.1 L1542.9 215.6 L1545.9 215.2 L1548.9 214.7 L1551.9 214.3 L1554.8 213.8 L1557.8 213.4 L1560.8 212.9 L1563.8 212.5 L1566.8 212.0 L1569.8 211.6 L1572.8 211.1 L1575.8 210.7 L1578.8 210.2 L1581.8 209.8 L1584.8 209.3 L1587.8 208.9 L1590.8 208.4 L1593.8 208.0 L1596.8 207.5 L1599.8 207.1 L1602.8 206.6 L1605.8 206.1 L1608.8 205.7 L1611.8 205.2 L1614.8 204.7 L1617.8 204.3 L1620.8 203.8 L1623.8 203.3 L1626.7 202.8 L1629.7 202.3 L1632.7 201.9 L1635.7 201.4 L1638.7 200.9 L1641.7 200.4 L1644.7 199.9 L1647.7 199.4 L1650.7 198.9 L1653.7 198.4 L1656.7 197.9 L1659.7 197.4 L1662.7 197.0 L1665.7 196.5 L1668.7 196.0 L1671.7 195.5 L1674.7 195.0 L1677.7 194.5 L1680.7 194.0 L1683.7 193.5 L1686.7 193.0 L1689.7 192.5 L1692.7 192.1 L1695.7 191.6 L1698.6 191.1 L1701.6 190.6 L1704.6 190.2 L1707.6 189.7 L1710.6 189.2 L1713.6 188.8 L1716.6 188.3 L1719.6 187.8 L1722.6 187.4 L1725.6 186.9 L1728.6 186.5 L1731.6 186.1 L1734.6 185.6 L1737.6 185.2 L1740.6 184.8 L1743.6 184.4 L1746.6 184.0 L1749.6 183.5 L1752.6 183.2 L1755.6 182.8 L1758.6 182.4 L1761.6 182.0 L1764.6 181.6 L1767.6 181.2 L1770.5 180.9 L1773.5 180.5 L1776.5 180.2 L1779.5 179.9 L1782.5 179.5 L1785.5 179.2 L1788.5 178.9 L1791.5 178.6 L1794.5 178.3 L1797.5 178.0 L1800.5 177.7 L1803.5 177.5" stroke="#ff0000" stroke-width="8" fill="none" stroke-linecap="butt" stroke-linejoin="round" stroke-dasharray="31 30.6"/>
<path d="M315.1 366.90L330.7 366.93M346.1 366.95L361.7 366.97M377.0 366.99L392.6 367.01M408.0 367.03L423.6 367.05M439.0 367.07L454.6 367.09M470.0 367.11L485.6 367.13M500.9 367.15L516.5 367.17M523.8 367.18L534.1 367.20M549.9 367.22L565.6 367.24M581.0 367.26L596.7 367.28M612.2 367.30L627.9 367.32M643.3 367.34L659.0 367.37M674.4 367.39L690.1 367.41M705.5 367.43L721.2 367.45M736.7 367.47L752.4 367.49M767.8 367.51L783.5 367.53M798.9 367.55L814.6 367.57M830.1 367.60L845.8 367.62M861.2 367.64L876.9 367.66M892.3 367.68L908.0 367.70M923.5 367.72L939.2 367.74M954.6 367.76L970.3 367.78M985.7 367.80L1001.4 367.82M1016.8 367.85L1032.5 367.87M1048.0 367.89L1063.7 367.91M1079.1 367.93L1094.8 367.95M1110.2 367.97L1125.9 367.99M1141.4 368.01L1157.1 368.03M1172.5 368.05L1188.2 368.08M1203.6 368.10L1219.3 368.12M1234.8 368.14L1250.5 368.16M1265.9 368.18L1281.6 368.20M1297.0 368.22L1312.7 368.24M1328.2 368.26L1343.9 368.28M1359.3 368.30L1375.0 368.33M1390.4 368.35L1406.1 368.37M1421.5 368.39L1437.2 368.41M1452.7 368.43L1468.4 368.45M1483.8 368.47L1499.5 368.49M1514.9 368.51L1530.6 368.53M1546.1 368.55L1561.8 368.58M1577.2 368.60L1592.9 368.62M1608.3 368.64L1624.0 368.66M1639.4 368.68L1655.1 368.70M1670.6 368.72L1686.3 368.74M1701.7 368.76L1717.4 368.78M1732.8 368.81L1748.5 368.83M1764.0 368.85L1779.7 368.87" stroke="#000" stroke-width="4" fill="none"/>
<text x="291.4" y="170.7" font-family="'Liberation Sans',Arial,Helvetica,sans-serif" font-size="57.4" fill="#262626" text-anchor="end">200</text>
<text x="291.4" y="390.7" font-family="'Liberation Sans',Arial,Helvetica,sans-serif" font-size="57.4" fill="#262626" text-anchor="end">0</text>
<text x="291.4" y="610.7" font-family="'Liberation Sans',Arial,Helvetica,sans-serif" font-size="57.4" fill="#262626" text-anchor="end">200</text>
<text x="291.4" y="830.8" font-family="'Liberation Sans',Arial,Helvetica,sans-serif" font-size="57.4" fill="#262626" text-anchor="end">400</text>
<text x="291.4" y="1050.8" font-family="'Liberation Sans',Arial,Helvetica,sans-serif" font-size="57.4" fill="#262626" text-anchor="end">600</text>
<text x="291.4" y="1270.8" font-family="'Liberation Sans',Arial,Helvetica,sans-serif" font-size="57.4" fill="#262626" text-anchor="end">-800</text>
<text x="291.4" y="1490.8" font-family="'Liberation Sans',Arial,Helvetica,sans-serif" font-size="57.4" fill="#262626" text-anchor="end">-1000</text>
<text x="311.6" y="1545.8" font-family="'Liberation Sans',Arial,Helvetica,sans-serif" font-size="57.4" fill="#262626" text-anchor="middle">1.1</text>
<text x="684.6" y="1545.8" font-family="'Liberation Sans',Arial,Helvetica,sans-serif" font-size="57.4" fill="#262626" text-anchor="middle">1.3</text>
<text x="1057.5" y="1545.8" font-family="'Liberation Sans',Arial,Helvetica,sans-serif" font-size="57.4" fill="#262626" text-anchor="middle">1.5</text>
<text x="1430.5" y="1545.8" font-family="'Liberation Sans',Arial,Helvetica,sans-serif" font-size="57.4" fill="#262626" text-anchor="middle">1.7</text>
<text x="1803.5" y="1545.8" font-family="'Liberation Sans',Arial,Helvetica,sans-serif" font-size="57.4" fill="#262626" text-anchor="middle">1.9</text>
<rect x="312.5" y="1763.0" width="1512.7" height="1338.8" fill="none" stroke="#262626" stroke-width="2"/>
<path d="M312.5 1986.1H327.5M1825.2 1986.1H1810.2M312.5 2209.3H327.5M1825.2 2209.3H1810.2M312.5 2432.4H327.5M1825.2 2432.4H1810.2M312.5 2655.5H327.5M1825.2 2655.5H1810.2M312.5 2878.7H327.5M1825.2 2878.7H1810.2M690.7 3101.8V3086.8M690.7 1763.0V1778.0M1068.8 3101.8V3086.8M1068.8 1763.0V1778.0M1447.0 3101.8V3086.8M1447.0 1763.0V1778.0" stroke="#262626" stroke-width="2" fill="none"/>
<path d="M312.5 2927.4 L315.5 2921.1 L318.5 2913.0 L321.5 2904.8 L324.5 2896.5 L327.5 2888.1 L330.5 2879.8 L333.5 2871.6 L336.5 2863.5 L339.5 2855.6 L342.5 2847.9 L345.4 2840.4 L348.4 2833.3 L351.4 2826.3 L354.4 2819.7 L357.4 2813.3 L360.4 2807.2 L363.4 2801.4 L366.4 2795.8 L369.4 2790.5 L372.4 2785.4 L375.4 2780.4 L378.4 2775.6 L381.4 2770.9 L384.4 2766.4 L387.4 2762.0 L390.4 2757.7 L393.4 2753.4 L396.4 2749.3 L399.4 2745.2 L402.4 2741.2 L405.4 2737.3 L408.4 2733.4 L411.3 2729.5 L414.3 2725.7 L417.3 2722.0 L420.3 2718.3 L423.3 2714.6 L426.3 2710.9 L429.3 2707.3 L432.3 2703.7 L435.3 2700.1 L438.3 2696.5 L441.3 2692.9 L444.3 2689.3 L447.3 2685.8 L450.3 2682.2 L453.3 2678.6 L456.3 2674.9 L459.3 2671.3 L462.3 2667.6 L465.3 2663.9 L468.3 2660.2 L471.3 2656.4 L474.3 2652.6 L477.2 2648.7 L480.2 2644.8 L483.2 2640.8 L486.2 2636.7 L489.2 2632.5 L492.2 2628.3 L495.2 2623.9 L498.2 2619.4 L501.2 2614.8 L504.2 2610.1 L507.2 2605.2 L510.2 2600.2 L513.2 2595.1 L516.2 2589.8 L519.2 2584.5 L522.2 2579.1 L525.2 2573.5 L528.2 2567.9 L531.2 2562.3 L534.2 2556.5 L537.2 2550.8 L540.2 2545.0 L543.1 2539.2 L546.1 2533.4 L549.1 2527.6 L552.1 2521.8 L555.1 2516.1 L558.1 2510.3 L561.1 2504.6 L564.1 2499.0 L567.1 2493.4 L570.1 2487.9 L573.1 2482.4 L576.1 2477.0 L579.1 2471.7 L582.1 2466.5 L585.1 2461.4 L588.1 2456.4 L591.1 2451.4 L594.1 2446.6 L597.1 2441.8 L600.1 2437.2 L603.1 2432.7 L606.1 2428.2 L609.0 2423.9 L612.0 2419.6 L615.0 2415.4 L618.0 2411.3 L621.0 2407.2 L624.0 2403.3 L627.0 2399.4 L630.0 2395.5 L633.0 2391.7 L636.0 2388.0 L639.0 2384.3 L642.0 2380.7 L645.0 2377.2 L648.0 2373.7 L651.0 2370.2 L654.0 2366.8 L657.0 2363.5 L660.0 2360.2 L663.0 2356.9 L666.0 2353.7 L669.0 2350.5 L672.0 2347.3 L674.9 2344.2 L677.9 2341.2 L680.9 2338.2 L683.9 2335.2 L686.9 2332.2 L689.9 2329.3 L692.9 2326.4 L695.9 2323.5 L698.9 2320.7 L701.9 2317.9 L704.9 2315.2 L707.9 2312.4 L710.9 2309.7 L713.9 2307.1 L716.9 2304.4 L719.9 2301.8 L722.9 2299.2 L725.9 2296.6 L728.9 2294.1 L731.9 2291.6 L734.9 2289.1 L737.9 2286.6 L740.8 2284.2 L743.8 2281.8 L746.8 2279.4 L749.8 2277.0 L752.8 2274.7 L755.8 2272.3 L758.8 2270.0 L761.8 2267.7 L764.8 2265.5 L767.8 2263.2 L770.8 2261.0 L773.8 2258.8 L776.8 2256.6 L779.8 2254.4 L782.8 2252.3 L785.8 2250.1 L788.8 2248.0 L791.8 2245.8 L794.8 2243.7 L797.8 2241.6 L800.8 2239.5 L803.8 2237.4 L806.7 2235.3 L809.7 2233.2 L812.7 2231.1 L815.7 2228.9 L818.7 2226.8 L821.7 2224.7 L824.7 2222.6 L827.7 2220.5 L830.7 2218.4 L833.7 2216.2 L836.7 2214.1 L839.7 2211.9 L842.7 2209.8 L845.7 2207.6 L848.7 2205.4 L851.7 2203.2 L854.7 2200.9 L857.7 2198.7 L860.7 2196.4 L863.7 2194.1 L866.7 2191.8 L869.7 2189.5 L872.6 2187.1 L875.6 2184.8 L878.6 2182.4 L881.6 2180.0 L884.6 2177.6 L887.6 2175.2 L890.6 2172.8 L893.6 2170.3 L896.6 2167.9 L899.6 2165.5 L902.6 2163.0 L905.6 2160.6 L908.6 2158.1 L911.6 2155.7 L914.6 2153.2 L917.6 2150.8 L920.6 2148.4 L923.6 2146.0 L926.6 2143.6 L929.6 2141.2 L932.6 2138.8 L935.6 2136.4 L938.5 2134.0 L941.5 2131.7 L944.5 2129.4 L947.5 2127.1 L950.5 2124.8 L953.5 2122.5 L956.5 2120.3 L959.5 2118.1 L962.5 2115.9 L965.5 2113.7 L968.5 2111.5 L971.5 2109.4 L974.5 2107.3 L977.5 2105.2 L980.5 2103.1 L983.5 2101.1 L986.5 2099.1 L989.5 2097.0 L992.5 2095.0 L995.5 2093.1 L998.5 2091.1 L1001.5 2089.2 L1004.4 2087.2 L1007.4 2085.3 L1010.4 2083.4 L1013.4 2081.6 L1016.4 2079.7 L1019.4 2077.9 L1022.4 2076.0 L1025.4 2074.2 L1028.4 2072.4 L1031.4 2070.6 L1034.4 2068.8 L1037.4 2067.1 L1040.4 2065.3 L1043.4 2063.6 L1046.4 2061.9 L1049.4 2060.1 L1052.4 2058.4 L1055.4 2056.7 L1058.4 2055.1 L1061.4 2053.4 L1064.4 2051.7 L1067.4 2050.1 L1070.3 2048.4 L1073.3 2046.8 L1076.3 2045.2 L1079.3 2043.6 L1082.3 2042.0 L1085.3 2040.4 L1088.3 2038.8 L1091.3 2037.2 L1094.3 2035.6 L1097.3 2034.1 L1100.3 2032.5 L1103.3 2031.0 L1106.3 2029.4 L1109.3 2027.9 L1112.3 2026.4 L1115.3 2024.8 L1118.3 2023.3 L1121.3 2021.8 L1124.3 2020.3 L1127.3 2018.8 L1130.3 2017.3 L1133.3 2015.8 L1136.2 2014.3 L1139.2 2012.9 L1142.2 2011.4 L1145.2 2009.9 L1148.2 2008.5 L1151.2 2007.0 L1154.2 2005.5 L1157.2 2004.1 L1160.2 2002.6 L1163.2 2001.2 L1166.2 1999.7 L1169.2 1998.3 L1172.2 1996.9 L1175.2 1995.4 L1178.2 1994.0 L1181.2 1992.6 L1184.2 1991.1 L1187.2 1989.7 L1190.2 1988.3 L1193.2 1986.9 L1196.2 1985.4 L1199.2 1984.0 L1202.1 1982.6 L1205.1 1981.2 L1208.1 1979.8 L1211.1 1978.4 L1214.1 1977.0 L1217.1 1975.7 L1220.1 1974.3 L1223.1 1972.9 L1226.1 1971.6 L1229.1 1970.2 L1232.1 1968.9 L1235.1 1967.5 L1238.1 1966.2 L1241.1 1964.9 L1244.1 1963.5 L1247.1 1962.2 L1250.1 1961.0 L1253.1 1959.7 L1256.1 1958.4 L1259.1 1957.1 L1262.1 1955.9 L1265.1 1954.6 L1268.0 1953.4 L1271.0 1952.2 L1274.0 1951.0 L1277.0 1949.8 L1280.0 1948.6 L1283.0 1947.4 L1286.0 1946.2 L1289.0 1945.1 L1292.0 1944.0 L1295.0 1942.8 L1298.0 1941.7 L1301.0 1940.6 L1304.0 1939.6 L1307.0 1938.5 L1310.0 1937.4 L1313.0 1936.4 L1316.0 1935.3 L1319.0 1934.3 L1322.0 1933.3 L1325.0 1932.3 L1328.0 1931.3 L1331.0 1930.3 L1333.9 1929.3 L1336.9 1928.4 L1339.9 1927.4 L1342.9 1926.5 L1345.9 1925.5 L1348.9 1924.6 L1351.9 1923.7 L1354.9 1922.7 L1357.9 1921.8 L1360.9 1920.9 L1363.9 1920.0 L1366.9 1919.1 L1369.9 1918.3 L1372.9 1917.4 L1375.9 1916.5 L1378.9 1915.6 L1381.9 1914.8 L1384.9 1913.9 L1387.9 1913.1 L1390.9 1912.2 L1393.9 1911.4 L1396.9 1910.5 L1399.8 1909.7 L1402.8 1908.9 L1405.8 1908.0 L1408.8 1907.2 L1411.8 1906.4 L1414.8 1905.6 L1417.8 1904.7 L1420.8 1903.9 L1423.8 1903.1 L1426.8 1902.3 L1429.8 1901.5 L1432.8 1900.7 L1435.8 1900.0 L1438.8 1899.2 L1441.8 1898.4 L1444.8 1897.6 L1447.8 1896.8 L1450.8 1896.1 L1453.8 1895.3 L1456.8 1894.6 L1459.8 1893.8 L1462.8 1893.0 L1465.7 1892.3 L1468.7 1891.6 L1471.7 1890.8 L1474.7 1890.1 L1477.7 1889.4 L1480.7 1888.6 L1483.7 1887.9 L1486.7 1887.2 L1489.7 1886.5 L1492.7 1885.8 L1495.7 1885.1 L1498.7 1884.4 L1501.7 1883.7 L1504.7 1883.0 L1507.7 1882.3 L1510.7 1881.7 L1513.7 1881.0 L1516.7 1880.3 L1519.7 1879.6 L1522.7 1879.0 L1525.7 1878.3 L1528.7 1877.7 L1531.6 1877.0 L1534.6 1876.4 L1537.6 1875.8 L1540.6 1875.1 L1543.6 1874.5 L1546.6 1873.9 L1549.6 1873.3 L1552.6 1872.7 L1555.6 1872.1 L1558.6 1871.5 L1561.6 1870.9 L1564.6 1870.3 L1567.6 1869.7 L1570.6 1869.1 L1573.6 1868.6 L1576.6 1868.0 L1579.6 1867.4 L1582.6 1866.9 L1585.6 1866.3 L1588.6 1865.8 L1591.6 1865.2 L1594.6 1864.7 L1597.5 1864.2 L1600.5 1863.6 L1603.5 1863.1 L1606.5 1862.6 L1609.5 1862.1 L1612.5 1861.6 L1615.5 1861.1 L1618.5 1860.6 L1621.5 1860.1 L1624.5 1859.6 L1627.5 1859.2 L1630.5 1858.7 L1633.5 1858.2 L1636.5 1857.8 L1639.5 1857.3 L1642.5 1856.9 L1645.5 1856.4 L1648.5 1856.0 L1651.5 1855.6 L1654.5 1855.1 L1657.5 1854.7 L1660.5 1854.3 L1663.4 1853.9 L1666.4 1853.5 L1669.4 1853.1 L1672.4 1852.7 L1675.4 1852.3 L1678.4 1852.0 L1681.4 1851.6 L1684.4 1851.2 L1687.4 1850.9 L1690.4 1850.5 L1693.4 1850.2 L1696.4 1849.8 L1699.4 1849.5 L1702.4 1849.2 L1705.4 1848.8 L1708.4 1848.5 L1711.4 1848.2 L1714.4 1847.9 L1717.4 1847.6 L1720.4 1847.3 L1723.4 1847.0 L1726.4 1846.8 L1729.3 1846.5 L1732.3 1846.2 L1735.3 1846.0 L1738.3 1845.7 L1741.3 1845.5 L1744.3 1845.2 L1747.3 1845.0 L1750.3 1844.8 L1753.3 1844.5 L1756.3 1844.3 L1759.3 1844.1 L1762.3 1843.9 L1765.3 1843.7 L1768.3 1843.5 L1771.3 1843.4 L1774.3 1843.2 L1777.3 1843.0 L1780.3 1842.8 L1783.3 1842.7 L1786.3 1842.5 L1789.3 1842.4 L1792.3 1842.3 L1795.2 1842.1 L1798.2 1842.0 L1801.2 1841.9 L1804.2 1841.8 L1807.2 1841.7 L1810.2 1841.6 L1813.2 1841.5 L1816.2 1841.4 L1819.2 1841.4 L1822.2 1841.3 L1825.2 1841.2" stroke="#ffd700" stroke-width="8" fill="none" stroke-linecap="butt" stroke-linejoin="round"/>
<path d="M312.5 2918.8 L315.5 2911.4 L318.5 2902.6 L321.5 2893.5 L324.5 2884.5 L327.5 2875.4 L330.5 2866.6 L333.5 2857.9 L336.5 2849.6 L339.5 2841.5 L342.5 2833.8 L345.4 2826.5 L348.4 2819.6 L351.4 2813.0 L354.4 2806.7 L357.4 2800.8 L360.4 2795.2 L363.4 2789.8 L366.4 2784.7 L369.4 2779.8 L372.4 2775.1 L375.4 2770.5 L378.4 2766.1 L381.4 2761.8 L384.4 2757.5 L387.4 2753.4 L390.4 2749.3 L393.4 2745.3 L396.4 2741.4 L399.4 2737.6 L402.4 2733.7 L405.4 2730.0 L408.4 2726.2 L411.3 2722.5 L414.3 2718.8 L417.3 2715.1 L420.3 2711.5 L423.3 2707.8 L426.3 2704.2 L429.3 2700.5 L432.3 2696.8 L435.3 2693.2 L438.3 2689.5 L441.3 2685.8 L444.3 2682.0 L447.3 2678.3 L450.3 2674.5 L453.3 2670.6 L456.3 2666.7 L459.3 2662.8 L462.3 2658.9 L465.3 2654.9 L468.3 2650.8 L471.3 2646.7 L474.3 2642.6 L477.2 2638.4 L480.2 2634.1 L483.2 2629.8 L486.2 2625.5 L489.2 2621.1 L492.2 2616.6 L495.2 2612.1 L498.2 2607.5 L501.2 2602.9 L504.2 2598.1 L507.2 2593.3 L510.2 2588.5 L513.2 2583.5 L516.2 2578.5 L519.2 2573.4 L522.2 2568.1 L525.2 2562.8 L528.2 2557.4 L531.2 2551.9 L534.2 2546.3 L537.2 2540.7 L540.2 2534.9 L543.1 2529.1 L546.1 2523.3 L549.1 2517.4 L552.1 2511.5 L555.1 2505.6 L558.1 2499.7 L561.1 2493.9 L564.1 2488.0 L567.1 2482.2 L570.1 2476.5 L573.1 2470.9 L576.1 2465.3 L579.1 2459.9 L582.1 2454.5 L585.1 2449.2 L588.1 2444.1 L591.1 2439.1 L594.1 2434.1 L597.1 2429.3 L600.1 2424.7 L603.1 2420.1 L606.1 2415.6 L609.0 2411.2 L612.0 2406.9 L615.0 2402.7 L618.0 2398.6 L621.0 2394.5 L624.0 2390.5 L627.0 2386.6 L630.0 2382.8 L633.0 2379.0 L636.0 2375.3 L639.0 2371.7 L642.0 2368.1 L645.0 2364.5 L648.0 2361.0 L651.0 2357.6 L654.0 2354.2 L657.0 2350.9 L660.0 2347.6 L663.0 2344.4 L666.0 2341.2 L669.0 2338.1 L672.0 2335.0 L674.9 2331.9 L677.9 2328.9 L680.9 2325.9 L683.9 2323.0 L686.9 2320.1 L689.9 2317.2 L692.9 2314.4 L695.9 2311.6 L698.9 2308.8 L701.9 2306.1 L704.9 2303.4 L707.9 2300.8 L710.9 2298.1 L713.9 2295.5 L716.9 2292.9 L719.9 2290.4 L722.9 2287.9 L725.9 2285.4 L728.9 2282.9 L731.9 2280.5 L734.9 2278.1 L737.9 2275.7 L740.8 2273.4 L743.8 2271.0 L746.8 2268.7 L749.8 2266.4 L752.8 2264.1 L755.8 2261.8 L758.8 2259.6 L761.8 2257.3 L764.8 2255.1 L767.8 2252.9 L770.8 2250.7 L773.8 2248.5 L776.8 2246.3 L779.8 2244.1 L782.8 2241.9 L785.8 2239.7 L788.8 2237.6 L791.8 2235.4 L794.8 2233.2 L797.8 2231.1 L800.8 2228.9 L803.8 2226.8 L806.7 2224.6 L809.7 2222.5 L812.7 2220.3 L815.7 2218.1 L818.7 2216.0 L821.7 2213.8 L824.7 2211.6 L827.7 2209.4 L830.7 2207.2 L833.7 2205.0 L836.7 2202.8 L839.7 2200.6 L842.7 2198.4 L845.7 2196.2 L848.7 2193.9 L851.7 2191.7 L854.7 2189.5 L857.7 2187.3 L860.7 2185.0 L863.7 2182.8 L866.7 2180.5 L869.7 2178.3 L872.6 2176.0 L875.6 2173.8 L878.6 2171.5 L881.6 2169.3 L884.6 2167.0 L887.6 2164.8 L890.6 2162.5 L893.6 2160.3 L896.6 2158.0 L899.6 2155.8 L902.6 2153.5 L905.6 2151.3 L908.6 2149.1 L911.6 2146.8 L914.6 2144.6 L917.6 2142.3 L920.6 2140.1 L923.6 2137.9 L926.6 2135.7 L929.6 2133.4 L932.6 2131.2 L935.6 2129.0 L938.5 2126.8 L941.5 2124.6 L944.5 2122.4 L947.5 2120.2 L950.5 2118.0 L953.5 2115.9 L956.5 2113.7 L959.5 2111.5 L962.5 2109.4 L965.5 2107.2 L968.5 2105.1 L971.5 2102.9 L974.5 2100.8 L977.5 2098.7 L980.5 2096.6 L983.5 2094.5 L986.5 2092.4 L989.5 2090.3 L992.5 2088.3 L995.5 2086.2 L998.5 2084.2 L1001.5 2082.1 L1004.4 2080.1 L1007.4 2078.1 L1010.4 2076.1 L1013.4 2074.1 L1016.4 2072.1 L1019.4 2070.1 L1022.4 2068.2 L1025.4 2066.2 L1028.4 2064.3 L1031.4 2062.4 L1034.4 2060.5 L1037.4 2058.6 L1040.4 2056.7 L1043.4 2054.8 L1046.4 2053.0 L1049.4 2051.1 L1052.4 2049.3 L1055.4 2047.5 L1058.4 2045.7 L1061.4 2043.9 L1064.4 2042.1 L1067.4 2040.3 L1070.3 2038.5 L1073.3 2036.8 L1076.3 2035.0 L1079.3 2033.3 L1082.3 2031.6 L1085.3 2029.9 L1088.3 2028.2 L1091.3 2026.5 L1094.3 2024.8 L1097.3 2023.2 L1100.3 2021.5 L1103.3 2019.9 L1106.3 2018.2 L1109.3 2016.6 L1112.3 2015.0 L1115.3 2013.4 L1118.3 2011.8 L1121.3 2010.2 L1124.3 2008.7 L1127.3 2007.1 L1130.3 2005.6 L1133.3 2004.0 L1136.2 2002.5 L1139.2 2001.0 L1142.2 1999.5 L1145.2 1998.0 L1148.2 1996.5 L1151.2 1995.0 L1154.2 1993.5 L1157.2 1992.1 L1160.2 1990.6 L1163.2 1989.2 L1166.2 1987.8 L1169.2 1986.3 L1172.2 1984.9 L1175.2 1983.5 L1178.2 1982.1 L1181.2 1980.8 L1184.2 1979.4 L1187.2 1978.0 L1190.2 1976.6 L1193.2 1975.3 L1196.2 1973.9 L1199.2 1972.6 L1202.1 1971.3 L1205.1 1970.0 L1208.1 1968.7 L1211.1 1967.3 L1214.1 1966.1 L1217.1 1964.8 L1220.1 1963.5 L1223.1 1962.2 L1226.1 1960.9 L1229.1 1959.7 L1232.1 1958.4 L1235.1 1957.2 L1238.1 1955.9 L1241.1 1954.7 L1244.1 1953.5 L1247.1 1952.3 L1250.1 1951.1 L1253.1 1949.8 L1256.1 1948.7 L1259.1 1947.5 L1262.1 1946.3 L1265.1 1945.1 L1268.0 1943.9 L1271.0 1942.8 L1274.0 1941.6 L1277.0 1940.4 L1280.0 1939.3 L1283.0 1938.2 L1286.0 1937.0 L1289.0 1935.9 L1292.0 1934.8 L1295.0 1933.7 L1298.0 1932.6 L1301.0 1931.5 L1304.0 1930.4 L1307.0 1929.3 L1310.0 1928.2 L1313.0 1927.1 L1316.0 1926.0 L1319.0 1925.0 L1322.0 1923.9 L1325.0 1922.9 L1328.0 1921.8 L1331.0 1920.8 L1333.9 1919.8 L1336.9 1918.7 L1339.9 1917.7 L1342.9 1916.7 L1345.9 1915.7 L1348.9 1914.7 L1351.9 1913.7 L1354.9 1912.7 L1357.9 1911.7 L1360.9 1910.8 L1363.9 1909.8 L1366.9 1908.8 L1369.9 1907.9 L1372.9 1906.9 L1375.9 1906.0 L1378.9 1905.0 L1381.9 1904.1 L1384.9 1903.2 L1387.9 1902.3 L1390.9 1901.3 L1393.9 1900.4 L1396.9 1899.5 L1399.8 1898.6 L1402.8 1897.7 L1405.8 1896.9 L1408.8 1896.0 L1411.8 1895.1 L1414.8 1894.2 L1417.8 1893.4 L1420.8 1892.5 L1423.8 1891.7 L1426.8 1890.8 L1429.8 1890.0 L1432.8 1889.2 L1435.8 1888.3 L1438.8 1887.5 L1441.8 1886.7 L1444.8 1885.9 L1447.8 1885.1 L1450.8 1884.3 L1453.8 1883.5 L1456.8 1882.7 L1459.8 1882.0 L1462.8 1881.2 L1465.7 1880.4 L1468.7 1879.7 L1471.7 1878.9 L1474.7 1878.2 L1477.7 1877.4 L1480.7 1876.7 L1483.7 1876.0 L1486.7 1875.3 L1489.7 1874.5 L1492.7 1873.8 L1495.7 1873.1 L1498.7 1872.4 L1501.7 1871.7 L1504.7 1871.0 L1507.7 1870.3 L1510.7 1869.7 L1513.7 1869.0 L1516.7 1868.3 L1519.7 1867.7 L1522.7 1867.0 L1525.7 1866.4 L1528.7 1865.7 L1531.6 1865.1 L1534.6 1864.4 L1537.6 1863.8 L1540.6 1863.2 L1543.6 1862.6 L1546.6 1862.0 L1549.6 1861.3 L1552.6 1860.7 L1555.6 1860.1 L1558.6 1859.6 L1561.6 1859.0 L1564.6 1858.4 L1567.6 1857.8 L1570.6 1857.2 L1573.6 1856.7 L1576.6 1856.1 L1579.6 1855.6 L1582.6 1855.0 L1585.6 1854.5 L1588.6 1853.9 L1591.6 1853.4 L1594.6 1852.9 L1597.5 1852.4 L1600.5 1851.8 L1603.5 1851.3 L1606.5 1850.8 L1609.5 1850.3 L1612.5 1849.8 L1615.5 1849.3 L1618.5 1848.8 L1621.5 1848.4 L1624.5 1847.9 L1627.5 1847.4 L1630.5 1846.9 L1633.5 1846.5 L1636.5 1846.0 L1639.5 1845.6 L1642.5 1845.1 L1645.5 1844.7 L1648.5 1844.2 L1651.5 1843.8 L1654.5 1843.4 L1657.5 1843.0 L1660.5 1842.5 L1663.4 1842.1 L1666.4 1841.7 L1669.4 1841.3 L1672.4 1840.9 L1675.4 1840.5 L1678.4 1840.1 L1681.4 1839.8 L1684.4 1839.4 L1687.4 1839.0 L1690.4 1838.6 L1693.4 1838.3 L1696.4 1837.9 L1699.4 1837.6 L1702.4 1837.2 L1705.4 1836.9 L1708.4 1836.5 L1711.4 1836.2 L1714.4 1835.8 L1717.4 1835.5 L1720.4 1835.2 L1723.4 1834.9 L1726.4 1834.6 L1729.3 1834.3 L1732.3 1834.0 L1735.3 1833.7 L1738.3 1833.4 L1741.3 1833.1 L1744.3 1832.8 L1747.3 1832.5 L1750.3 1832.2 L1753.3 1832.0 L1756.3 1831.7 L1759.3 1831.4 L1762.3 1831.2 L1765.3 1830.9 L1768.3 1830.7 L1771.3 1830.4 L1774.3 1830.2 L1777.3 1829.9 L1780.3 1829.7 L1783.3 1829.5 L1786.3 1829.3 L1789.3 1829.0 L1792.3 1828.8 L1795.2 1828.6 L1798.2 1828.4 L1801.2 1828.2 L1804.2 1828.0 L1807.2 1827.8 L1810.2 1827.6 L1813.2 1827.5 L1816.2 1827.3 L1819.2 1827.1 L1822.2 1826.9 L1825.2 1826.8" stroke="#ff00ff" stroke-width="8" fill="none" stroke-linecap="butt" stroke-linejoin="round" stroke-dasharray="31 7.8 16 7.8"/>
<path d="M312.5 2911.0 L315.5 2903.0 L318.5 2893.7 L321.5 2884.5 L324.5 2875.4 L327.5 2866.5 L330.5 2857.7 L333.5 2849.3 L336.5 2841.2 L339.5 2833.4 L342.5 2826.0 L345.4 2819.0 L348.4 2812.3 L351.4 2805.9 L354.4 2799.8 L357.4 2794.1 L360.4 2788.6 L363.4 2783.3 L366.4 2778.3 L369.4 2773.4 L372.4 2768.6 L375.4 2764.0 L378.4 2759.5 L381.4 2755.1 L384.4 2750.8 L387.4 2746.6 L390.4 2742.5 L393.4 2738.4 L396.4 2734.4 L399.4 2730.5 L402.4 2726.6 L405.4 2722.7 L408.4 2718.9 L411.3 2715.1 L414.3 2711.3 L417.3 2707.6 L420.3 2703.9 L423.3 2700.2 L426.3 2696.5 L429.3 2692.8 L432.3 2689.2 L435.3 2685.5 L438.3 2681.8 L441.3 2678.1 L444.3 2674.4 L447.3 2670.7 L450.3 2667.0 L453.3 2663.3 L456.3 2659.5 L459.3 2655.7 L462.3 2651.8 L465.3 2648.0 L468.3 2644.0 L471.3 2640.0 L474.3 2636.0 L477.2 2631.9 L480.2 2627.7 L483.2 2623.4 L486.2 2619.1 L489.2 2614.6 L492.2 2610.0 L495.2 2605.4 L498.2 2600.6 L501.2 2595.7 L504.2 2590.8 L507.2 2585.7 L510.2 2580.6 L513.2 2575.3 L516.2 2570.0 L519.2 2564.6 L522.2 2559.1 L525.2 2553.5 L528.2 2547.9 L531.2 2542.2 L534.2 2536.4 L537.2 2530.7 L540.2 2524.9 L543.1 2519.0 L546.1 2513.2 L549.1 2507.4 L552.1 2501.5 L555.1 2495.7 L558.1 2490.0 L561.1 2484.2 L564.1 2478.6 L567.1 2472.9 L570.1 2467.4 L573.1 2461.9 L576.1 2456.5 L579.1 2451.1 L582.1 2445.9 L585.1 2440.7 L588.1 2435.7 L591.1 2430.7 L594.1 2425.8 L597.1 2421.0 L600.1 2416.3 L603.1 2411.6 L606.1 2407.1 L609.0 2402.6 L612.0 2398.2 L615.0 2393.9 L618.0 2389.6 L621.0 2385.5 L624.0 2381.4 L627.0 2377.3 L630.0 2373.4 L633.0 2369.5 L636.0 2365.7 L639.0 2361.9 L642.0 2358.2 L645.0 2354.6 L648.0 2351.0 L651.0 2347.5 L654.0 2344.1 L657.0 2340.7 L660.0 2337.4 L663.0 2334.1 L666.0 2330.9 L669.0 2327.7 L672.0 2324.6 L674.9 2321.6 L677.9 2318.6 L680.9 2315.7 L683.9 2312.8 L686.9 2310.0 L689.9 2307.2 L692.9 2304.4 L695.9 2301.7 L698.9 2299.1 L701.9 2296.4 L704.9 2293.8 L707.9 2291.3 L710.9 2288.7 L713.9 2286.2 L716.9 2283.7 L719.9 2281.3 L722.9 2278.9 L725.9 2276.5 L728.9 2274.1 L731.9 2271.7 L734.9 2269.4 L737.9 2267.0 L740.8 2264.7 L743.8 2262.4 L746.8 2260.1 L749.8 2257.8 L752.8 2255.6 L755.8 2253.3 L758.8 2251.0 L761.8 2248.8 L764.8 2246.6 L767.8 2244.3 L770.8 2242.1 L773.8 2239.8 L776.8 2237.6 L779.8 2235.4 L782.8 2233.2 L785.8 2230.9 L788.8 2228.7 L791.8 2226.4 L794.8 2224.2 L797.8 2222.0 L800.8 2219.7 L803.8 2217.4 L806.7 2215.1 L809.7 2212.9 L812.7 2210.6 L815.7 2208.3 L818.7 2206.0 L821.7 2203.7 L824.7 2201.3 L827.7 2199.0 L830.7 2196.7 L833.7 2194.4 L836.7 2192.0 L839.7 2189.7 L842.7 2187.4 L845.7 2185.0 L848.7 2182.7 L851.7 2180.4 L854.7 2178.0 L857.7 2175.7 L860.7 2173.3 L863.7 2171.0 L866.7 2168.6 L869.7 2166.3 L872.6 2164.0 L875.6 2161.6 L878.6 2159.3 L881.6 2157.0 L884.6 2154.7 L887.6 2152.3 L890.6 2150.0 L893.6 2147.7 L896.6 2145.4 L899.6 2143.1 L902.6 2140.8 L905.6 2138.5 L908.6 2136.3 L911.6 2134.0 L914.6 2131.7 L917.6 2129.5 L920.6 2127.2 L923.6 2125.0 L926.6 2122.8 L929.6 2120.6 L932.6 2118.4 L935.6 2116.2 L938.5 2114.0 L941.5 2111.8 L944.5 2109.7 L947.5 2107.5 L950.5 2105.4 L953.5 2103.3 L956.5 2101.2 L959.5 2099.1 L962.5 2097.0 L965.5 2094.9 L968.5 2092.9 L971.5 2090.8 L974.5 2088.8 L977.5 2086.7 L980.5 2084.7 L983.5 2082.7 L986.5 2080.7 L989.5 2078.7 L992.5 2076.7 L995.5 2074.8 L998.5 2072.8 L1001.5 2070.9 L1004.4 2068.9 L1007.4 2067.0 L1010.4 2065.1 L1013.4 2063.2 L1016.4 2061.3 L1019.4 2059.4 L1022.4 2057.5 L1025.4 2055.6 L1028.4 2053.8 L1031.4 2051.9 L1034.4 2050.1 L1037.4 2048.3 L1040.4 2046.4 L1043.4 2044.6 L1046.4 2042.8 L1049.4 2041.0 L1052.4 2039.3 L1055.4 2037.5 L1058.4 2035.7 L1061.4 2034.0 L1064.4 2032.2 L1067.4 2030.5 L1070.3 2028.8 L1073.3 2027.1 L1076.3 2025.3 L1079.3 2023.6 L1082.3 2022.0 L1085.3 2020.3 L1088.3 2018.6 L1091.3 2016.9 L1094.3 2015.3 L1097.3 2013.6 L1100.3 2012.0 L1103.3 2010.4 L1106.3 2008.8 L1109.3 2007.1 L1112.3 2005.5 L1115.3 2003.9 L1118.3 2002.4 L1121.3 2000.8 L1124.3 1999.2 L1127.3 1997.7 L1130.3 1996.1 L1133.3 1994.6 L1136.2 1993.0 L1139.2 1991.5 L1142.2 1990.0 L1145.2 1988.5 L1148.2 1987.0 L1151.2 1985.5 L1154.2 1984.0 L1157.2 1982.5 L1160.2 1981.0 L1163.2 1979.6 L1166.2 1978.1 L1169.2 1976.7 L1172.2 1975.2 L1175.2 1973.8 L1178.2 1972.4 L1181.2 1971.0 L1184.2 1969.6 L1187.2 1968.2 L1190.2 1966.8 L1193.2 1965.4 L1196.2 1964.0 L1199.2 1962.6 L1202.1 1961.3 L1205.1 1959.9 L1208.1 1958.6 L1211.1 1957.2 L1214.1 1955.9 L1217.1 1954.6 L1220.1 1953.3 L1223.1 1951.9 L1226.1 1950.6 L1229.1 1949.3 L1232.1 1948.1 L1235.1 1946.8 L1238.1 1945.5 L1241.1 1944.2 L1244.1 1943.0 L1247.1 1941.7 L1250.1 1940.5 L1253.1 1939.2 L1256.1 1938.0 L1259.1 1936.8 L1262.1 1935.6 L1265.1 1934.4 L1268.0 1933.2 L1271.0 1932.0 L1274.0 1930.8 L1277.0 1929.6 L1280.0 1928.4 L1283.0 1927.3 L1286.0 1926.1 L1289.0 1924.9 L1292.0 1923.8 L1295.0 1922.7 L1298.0 1921.5 L1301.0 1920.4 L1304.0 1919.3 L1307.0 1918.2 L1310.0 1917.1 L1313.0 1916.0 L1316.0 1914.9 L1319.0 1913.8 L1322.0 1912.7 L1325.0 1911.6 L1328.0 1910.6 L1331.0 1909.5 L1333.9 1908.4 L1336.9 1907.4 L1339.9 1906.4 L1342.9 1905.3 L1345.9 1904.3 L1348.9 1903.3 L1351.9 1902.3 L1354.9 1901.2 L1357.9 1900.2 L1360.9 1899.3 L1363.9 1898.3 L1366.9 1897.3 L1369.9 1896.3 L1372.9 1895.3 L1375.9 1894.4 L1378.9 1893.4 L1381.9 1892.5 L1384.9 1891.5 L1387.9 1890.6 L1390.9 1889.6 L1393.9 1888.7 L1396.9 1887.8 L1399.8 1886.9 L1402.8 1886.0 L1405.8 1885.1 L1408.8 1884.2 L1411.8 1883.3 L1414.8 1882.4 L1417.8 1881.5 L1420.8 1880.7 L1423.8 1879.8 L1426.8 1878.9 L1429.8 1878.1 L1432.8 1877.2 L1435.8 1876.4 L1438.8 1875.6 L1441.8 1874.7 L1444.8 1873.9 L1447.8 1873.1 L1450.8 1872.3 L1453.8 1871.5 L1456.8 1870.7 L1459.8 1869.9 L1462.8 1869.1 L1465.7 1868.3 L1468.7 1867.5 L1471.7 1866.8 L1474.7 1866.0 L1477.7 1865.3 L1480.7 1864.5 L1483.7 1863.8 L1486.7 1863.0 L1489.7 1862.3 L1492.7 1861.6 L1495.7 1860.8 L1498.7 1860.1 L1501.7 1859.4 L1504.7 1858.7 L1507.7 1858.0 L1510.7 1857.3 L1513.7 1856.6 L1516.7 1855.9 L1519.7 1855.3 L1522.7 1854.6 L1525.7 1853.9 L1528.7 1853.3 L1531.6 1852.6 L1534.6 1852.0 L1537.6 1851.3 L1540.6 1850.7 L1543.6 1850.1 L1546.6 1849.4 L1549.6 1848.8 L1552.6 1848.2 L1555.6 1847.6 L1558.6 1847.0 L1561.6 1846.4 L1564.6 1845.8 L1567.6 1845.2 L1570.6 1844.6 L1573.6 1844.0 L1576.6 1843.5 L1579.6 1842.9 L1582.6 1842.4 L1585.6 1841.8 L1588.6 1841.3 L1591.6 1840.7 L1594.6 1840.2 L1597.5 1839.6 L1600.5 1839.1 L1603.5 1838.6 L1606.5 1838.1 L1609.5 1837.6 L1612.5 1837.1 L1615.5 1836.6 L1618.5 1836.1 L1621.5 1835.6 L1624.5 1835.1 L1627.5 1834.6 L1630.5 1834.2 L1633.5 1833.7 L1636.5 1833.2 L1639.5 1832.8 L1642.5 1832.3 L1645.5 1831.9 L1648.5 1831.4 L1651.5 1831.0 L1654.5 1830.6 L1657.5 1830.1 L1660.5 1829.7 L1663.4 1829.3 L1666.4 1828.9 L1669.4 1828.5 L1672.4 1828.1 L1675.4 1827.7 L1678.4 1827.3 L1681.4 1827.0 L1684.4 1826.6 L1687.4 1826.2 L1690.4 1825.8 L1693.4 1825.5 L1696.4 1825.1 L1699.4 1824.8 L1702.4 1824.4 L1705.4 1824.1 L1708.4 1823.8 L1711.4 1823.4 L1714.4 1823.1 L1717.4 1822.8 L1720.4 1822.5 L1723.4 1822.2 L1726.4 1821.9 L1729.3 1821.6 L1732.3 1821.3 L1735.3 1821.0 L1738.3 1820.7 L1741.3 1820.4 L1744.3 1820.2 L1747.3 1819.9 L1750.3 1819.6 L1753.3 1819.4 L1756.3 1819.1 L1759.3 1818.9 L1762.3 1818.7 L1765.3 1818.4 L1768.3 1818.2 L1771.3 1818.0 L1774.3 1817.8 L1777.3 1817.5 L1780.3 1817.3 L1783.3 1817.1 L1786.3 1816.9 L1789.3 1816.7 L1792.3 1816.6 L1795.2 1816.4 L1798.2 1816.2 L1801.2 1816.0 L1804.2 1815.9 L1807.2 1815.7 L1810.2 1815.5 L1813.2 1815.4 L1816.2 1815.2 L1819.2 1815.1 L1822.2 1815.0 L1825.2 1814.8" stroke="#008000" stroke-width="8" fill="none" stroke-linecap="butt" stroke-linejoin="round" stroke-dasharray="7.5 7.8"/>
<path d="M312.5 2903.1 L315.5 2895.7 L318.5 2888.0 L321.5 2879.9 L324.5 2871.5 L327.5 2862.9 L330.5 2854.1 L333.5 2845.4 L336.5 2836.7 L339.5 2828.2 L342.5 2820.0 L345.4 2812.1 L348.4 2804.5 L351.4 2797.4 L354.4 2790.6 L357.4 2784.1 L360.4 2777.9 L363.4 2772.0 L366.4 2766.4 L369.4 2761.1 L372.4 2755.9 L375.4 2751.0 L378.4 2746.3 L381.4 2741.7 L384.4 2737.4 L387.4 2733.2 L390.4 2729.1 L393.4 2725.2 L396.4 2721.4 L399.4 2717.8 L402.4 2714.3 L405.4 2710.8 L408.4 2707.5 L411.3 2704.1 L414.3 2700.8 L417.3 2697.6 L420.3 2694.3 L423.3 2691.0 L426.3 2687.7 L429.3 2684.4 L432.3 2681.0 L435.3 2677.6 L438.3 2674.1 L441.3 2670.5 L444.3 2666.9 L447.3 2663.2 L450.3 2659.4 L453.3 2655.5 L456.3 2651.6 L459.3 2647.6 L462.3 2643.5 L465.3 2639.4 L468.3 2635.2 L471.3 2630.9 L474.3 2626.5 L477.2 2622.1 L480.2 2617.5 L483.2 2613.0 L486.2 2608.3 L489.2 2603.6 L492.2 2598.8 L495.2 2593.9 L498.2 2588.9 L501.2 2583.9 L504.2 2578.9 L507.2 2573.8 L510.2 2568.6 L513.2 2563.4 L516.2 2558.1 L519.2 2552.8 L522.2 2547.4 L525.2 2542.0 L528.2 2536.6 L531.2 2531.1 L534.2 2525.7 L537.2 2520.2 L540.2 2514.7 L543.1 2509.2 L546.1 2503.7 L549.1 2498.2 L552.1 2492.7 L555.1 2487.2 L558.1 2481.8 L561.1 2476.3 L564.1 2470.9 L567.1 2465.6 L570.1 2460.3 L573.1 2455.0 L576.1 2449.8 L579.1 2444.6 L582.1 2439.5 L585.1 2434.5 L588.1 2429.5 L591.1 2424.6 L594.1 2419.7 L597.1 2414.9 L600.1 2410.2 L603.1 2405.5 L606.1 2401.0 L609.0 2396.4 L612.0 2392.0 L615.0 2387.6 L618.0 2383.4 L621.0 2379.1 L624.0 2375.0 L627.0 2370.9 L630.0 2366.9 L633.0 2363.0 L636.0 2359.1 L639.0 2355.3 L642.0 2351.5 L645.0 2347.8 L648.0 2344.1 L651.0 2340.5 L654.0 2337.0 L657.0 2333.5 L660.0 2330.1 L663.0 2326.6 L666.0 2323.3 L669.0 2320.0 L672.0 2316.7 L674.9 2313.5 L677.9 2310.3 L680.9 2307.2 L683.9 2304.1 L686.9 2301.0 L689.9 2298.0 L692.9 2295.1 L695.9 2292.2 L698.9 2289.3 L701.9 2286.5 L704.9 2283.8 L707.9 2281.1 L710.9 2278.5 L713.9 2275.9 L716.9 2273.4 L719.9 2270.9 L722.9 2268.5 L725.9 2266.0 L728.9 2263.6 L731.9 2261.3 L734.9 2259.0 L737.9 2256.7 L740.8 2254.4 L743.8 2252.1 L746.8 2249.9 L749.8 2247.7 L752.8 2245.5 L755.8 2243.3 L758.8 2241.1 L761.8 2238.9 L764.8 2236.8 L767.8 2234.6 L770.8 2232.5 L773.8 2230.3 L776.8 2228.2 L779.8 2226.1 L782.8 2223.9 L785.8 2221.8 L788.8 2219.7 L791.8 2217.5 L794.8 2215.4 L797.8 2213.2 L800.8 2211.0 L803.8 2208.8 L806.7 2206.6 L809.7 2204.4 L812.7 2202.2 L815.7 2200.0 L818.7 2197.8 L821.7 2195.6 L824.7 2193.3 L827.7 2191.1 L830.7 2188.8 L833.7 2186.6 L836.7 2184.3 L839.7 2182.0 L842.7 2179.8 L845.7 2177.5 L848.7 2175.2 L851.7 2172.9 L854.7 2170.6 L857.7 2168.3 L860.7 2166.0 L863.7 2163.7 L866.7 2161.4 L869.7 2159.1 L872.6 2156.8 L875.6 2154.5 L878.6 2152.2 L881.6 2149.9 L884.6 2147.6 L887.6 2145.3 L890.6 2143.0 L893.6 2140.7 L896.6 2138.4 L899.6 2136.1 L902.6 2133.8 L905.6 2131.5 L908.6 2129.2 L911.6 2126.9 L914.6 2124.6 L917.6 2122.4 L920.6 2120.1 L923.6 2117.8 L926.6 2115.6 L929.6 2113.3 L932.6 2111.0 L935.6 2108.8 L938.5 2106.6 L941.5 2104.3 L944.5 2102.1 L947.5 2099.9 L950.5 2097.7 L953.5 2095.5 L956.5 2093.3 L959.5 2091.1 L962.5 2089.0 L965.5 2086.8 L968.5 2084.6 L971.5 2082.5 L974.5 2080.4 L977.5 2078.3 L980.5 2076.1 L983.5 2074.0 L986.5 2071.9 L989.5 2069.9 L992.5 2067.8 L995.5 2065.7 L998.5 2063.7 L1001.5 2061.6 L1004.4 2059.6 L1007.4 2057.5 L1010.4 2055.5 L1013.4 2053.5 L1016.4 2051.5 L1019.4 2049.5 L1022.4 2047.6 L1025.4 2045.6 L1028.4 2043.6 L1031.4 2041.7 L1034.4 2039.8 L1037.4 2037.8 L1040.4 2035.9 L1043.4 2034.0 L1046.4 2032.1 L1049.4 2030.2 L1052.4 2028.3 L1055.4 2026.5 L1058.4 2024.6 L1061.4 2022.8 L1064.4 2020.9 L1067.4 2019.1 L1070.3 2017.3 L1073.3 2015.5 L1076.3 2013.7 L1079.3 2011.9 L1082.3 2010.1 L1085.3 2008.4 L1088.3 2006.6 L1091.3 2004.9 L1094.3 2003.1 L1097.3 2001.4 L1100.3 1999.7 L1103.3 1998.0 L1106.3 1996.3 L1109.3 1994.6 L1112.3 1993.0 L1115.3 1991.3 L1118.3 1989.7 L1121.3 1988.0 L1124.3 1986.4 L1127.3 1984.8 L1130.3 1983.2 L1133.3 1981.6 L1136.2 1980.0 L1139.2 1978.4 L1142.2 1976.9 L1145.2 1975.3 L1148.2 1973.8 L1151.2 1972.2 L1154.2 1970.7 L1157.2 1969.2 L1160.2 1967.7 L1163.2 1966.2 L1166.2 1964.8 L1169.2 1963.3 L1172.2 1961.8 L1175.2 1960.4 L1178.2 1959.0 L1181.2 1957.5 L1184.2 1956.1 L1187.2 1954.7 L1190.2 1953.3 L1193.2 1952.0 L1196.2 1950.6 L1199.2 1949.2 L1202.1 1947.9 L1205.1 1946.5 L1208.1 1945.2 L1211.1 1943.9 L1214.1 1942.5 L1217.1 1941.2 L1220.1 1939.9 L1223.1 1938.6 L1226.1 1937.4 L1229.1 1936.1 L1232.1 1934.8 L1235.1 1933.6 L1238.1 1932.3 L1241.1 1931.1 L1244.1 1929.8 L1247.1 1928.6 L1250.1 1927.4 L1253.1 1926.2 L1256.1 1925.0 L1259.1 1923.8 L1262.1 1922.6 L1265.1 1921.4 L1268.0 1920.3 L1271.0 1919.1 L1274.0 1917.9 L1277.0 1916.8 L1280.0 1915.7 L1283.0 1914.5 L1286.0 1913.4 L1289.0 1912.3 L1292.0 1911.2 L1295.0 1910.1 L1298.0 1909.0 L1301.0 1907.9 L1304.0 1906.8 L1307.0 1905.7 L1310.0 1904.6 L1313.0 1903.6 L1316.0 1902.5 L1319.0 1901.5 L1322.0 1900.4 L1325.0 1899.4 L1328.0 1898.3 L1331.0 1897.3 L1333.9 1896.3 L1336.9 1895.3 L1339.9 1894.2 L1342.9 1893.2 L1345.9 1892.2 L1348.9 1891.2 L1351.9 1890.3 L1354.9 1889.3 L1357.9 1888.3 L1360.9 1887.3 L1363.9 1886.4 L1366.9 1885.4 L1369.9 1884.4 L1372.9 1883.5 L1375.9 1882.5 L1378.9 1881.6 L1381.9 1880.7 L1384.9 1879.7 L1387.9 1878.8 L1390.9 1877.9 L1393.9 1877.0 L1396.9 1876.1 L1399.8 1875.2 L1402.8 1874.3 L1405.8 1873.4 L1408.8 1872.5 L1411.8 1871.6 L1414.8 1870.7 L1417.8 1869.9 L1420.8 1869.0 L1423.8 1868.1 L1426.8 1867.3 L1429.8 1866.4 L1432.8 1865.6 L1435.8 1864.8 L1438.8 1863.9 L1441.8 1863.1 L1444.8 1862.3 L1447.8 1861.5 L1450.8 1860.7 L1453.8 1859.9 L1456.8 1859.1 L1459.8 1858.3 L1462.8 1857.5 L1465.7 1856.7 L1468.7 1855.9 L1471.7 1855.1 L1474.7 1854.4 L1477.7 1853.6 L1480.7 1852.8 L1483.7 1852.1 L1486.7 1851.3 L1489.7 1850.6 L1492.7 1849.9 L1495.7 1849.1 L1498.7 1848.4 L1501.7 1847.7 L1504.7 1847.0 L1507.7 1846.3 L1510.7 1845.6 L1513.7 1844.9 L1516.7 1844.2 L1519.7 1843.5 L1522.7 1842.8 L1525.7 1842.1 L1528.7 1841.4 L1531.6 1840.8 L1534.6 1840.1 L1537.6 1839.5 L1540.6 1838.8 L1543.6 1838.2 L1546.6 1837.5 L1549.6 1836.9 L1552.6 1836.3 L1555.6 1835.6 L1558.6 1835.0 L1561.6 1834.4 L1564.6 1833.8 L1567.6 1833.2 L1570.6 1832.6 L1573.6 1832.0 L1576.6 1831.4 L1579.6 1830.8 L1582.6 1830.3 L1585.6 1829.7 L1588.6 1829.1 L1591.6 1828.6 L1594.6 1828.0 L1597.5 1827.5 L1600.5 1826.9 L1603.5 1826.4 L1606.5 1825.8 L1609.5 1825.3 L1612.5 1824.8 L1615.5 1824.3 L1618.5 1823.7 L1621.5 1823.2 L1624.5 1822.7 L1627.5 1822.2 L1630.5 1821.7 L1633.5 1821.3 L1636.5 1820.8 L1639.5 1820.3 L1642.5 1819.8 L1645.5 1819.4 L1648.5 1818.9 L1651.5 1818.5 L1654.5 1818.0 L1657.5 1817.6 L1660.5 1817.1 L1663.4 1816.7 L1666.4 1816.3 L1669.4 1815.8 L1672.4 1815.4 L1675.4 1815.0 L1678.4 1814.6 L1681.4 1814.2 L1684.4 1813.8 L1687.4 1813.4 L1690.4 1813.0 L1693.4 1812.6 L1696.4 1812.3 L1699.4 1811.9 L1702.4 1811.5 L1705.4 1811.2 L1708.4 1810.8 L1711.4 1810.5 L1714.4 1810.1 L1717.4 1809.8 L1720.4 1809.5 L1723.4 1809.1 L1726.4 1808.8 L1729.3 1808.5 L1732.3 1808.2 L1735.3 1807.9 L1738.3 1807.6 L1741.3 1807.3 L1744.3 1807.0 L1747.3 1806.7 L1750.3 1806.4 L1753.3 1806.2 L1756.3 1805.9 L1759.3 1805.6 L1762.3 1805.4 L1765.3 1805.1 L1768.3 1804.9 L1771.3 1804.6 L1774.3 1804.4 L1777.3 1804.2 L1780.3 1803.9 L1783.3 1803.7 L1786.3 1803.5 L1789.3 1803.3 L1792.3 1803.1 L1795.2 1802.9 L1798.2 1802.7 L1801.2 1802.5 L1804.2 1802.3 L1807.2 1802.2 L1810.2 1802.0 L1813.2 1801.8 L1816.2 1801.7 L1819.2 1801.5 L1822.2 1801.4 L1825.2 1801.2" stroke="#0000ff" stroke-width="8" fill="none" stroke-linecap="butt" stroke-linejoin="round"/>
<path d="M312.5 2896.3 L315.5 2888.6 L318.5 2879.6 L321.5 2870.5 L324.5 2861.5 L327.5 2852.6 L330.5 2843.8 L333.5 2835.3 L336.5 2827.0 L339.5 2819.1 L342.5 2811.4 L345.4 2804.0 L348.4 2796.9 L351.4 2790.2 L354.4 2783.7 L357.4 2777.5 L360.4 2771.6 L363.4 2766.0 L366.4 2760.6 L369.4 2755.4 L372.4 2750.5 L375.4 2745.7 L378.4 2741.1 L381.4 2736.6 L384.4 2732.3 L387.4 2728.0 L390.4 2723.9 L393.4 2719.8 L396.4 2715.8 L399.4 2711.9 L402.4 2708.0 L405.4 2704.2 L408.4 2700.4 L411.3 2696.6 L414.3 2692.9 L417.3 2689.2 L420.3 2685.5 L423.3 2681.8 L426.3 2678.1 L429.3 2674.4 L432.3 2670.7 L435.3 2667.1 L438.3 2663.4 L441.3 2659.6 L444.3 2655.9 L447.3 2652.2 L450.3 2648.4 L453.3 2644.7 L456.3 2640.9 L459.3 2637.0 L462.3 2633.2 L465.3 2629.3 L468.3 2625.4 L471.3 2621.4 L474.3 2617.4 L477.2 2613.4 L480.2 2609.3 L483.2 2605.2 L486.2 2601.0 L489.2 2596.7 L492.2 2592.4 L495.2 2588.0 L498.2 2583.5 L501.2 2579.0 L504.2 2574.3 L507.2 2569.6 L510.2 2564.7 L513.2 2559.7 L516.2 2554.6 L519.2 2549.3 L522.2 2544.0 L525.2 2538.5 L528.2 2532.9 L531.2 2527.2 L534.2 2521.4 L537.2 2515.5 L540.2 2509.6 L543.1 2503.6 L546.1 2497.5 L549.1 2491.5 L552.1 2485.4 L555.1 2479.4 L558.1 2473.3 L561.1 2467.3 L564.1 2461.4 L567.1 2455.5 L570.1 2449.8 L573.1 2444.1 L576.1 2438.5 L579.1 2433.0 L582.1 2427.6 L585.1 2422.3 L588.1 2417.1 L591.1 2412.0 L594.1 2407.0 L597.1 2402.0 L600.1 2397.2 L603.1 2392.5 L606.1 2387.8 L609.0 2383.2 L612.0 2378.8 L615.0 2374.4 L618.0 2370.1 L621.0 2365.8 L624.0 2361.7 L627.0 2357.6 L630.0 2353.6 L633.0 2349.7 L636.0 2345.9 L639.0 2342.2 L642.0 2338.5 L645.0 2334.9 L648.0 2331.3 L651.0 2327.9 L654.0 2324.5 L657.0 2321.2 L660.0 2317.9 L663.0 2314.7 L666.0 2311.6 L669.0 2308.6 L672.0 2305.6 L674.9 2302.6 L677.9 2299.8 L680.9 2296.9 L683.9 2294.2 L686.9 2291.4 L689.9 2288.8 L692.9 2286.1 L695.9 2283.5 L698.9 2280.9 L701.9 2278.4 L704.9 2275.9 L707.9 2273.4 L710.9 2271.0 L713.9 2268.5 L716.9 2266.1 L719.9 2263.8 L722.9 2261.4 L725.9 2259.0 L728.9 2256.7 L731.9 2254.4 L734.9 2252.1 L737.9 2249.8 L740.8 2247.5 L743.8 2245.2 L746.8 2243.0 L749.8 2240.7 L752.8 2238.5 L755.8 2236.2 L758.8 2233.9 L761.8 2231.7 L764.8 2229.4 L767.8 2227.2 L770.8 2224.9 L773.8 2222.6 L776.8 2220.3 L779.8 2218.1 L782.8 2215.8 L785.8 2213.5 L788.8 2211.2 L791.8 2208.9 L794.8 2206.6 L797.8 2204.3 L800.8 2202.0 L803.8 2199.6 L806.7 2197.3 L809.7 2195.0 L812.7 2192.7 L815.7 2190.4 L818.7 2188.0 L821.7 2185.7 L824.7 2183.4 L827.7 2181.0 L830.7 2178.7 L833.7 2176.4 L836.7 2174.0 L839.7 2171.7 L842.7 2169.4 L845.7 2167.0 L848.7 2164.7 L851.7 2162.4 L854.7 2160.0 L857.7 2157.7 L860.7 2155.4 L863.7 2153.1 L866.7 2150.7 L869.7 2148.4 L872.6 2146.1 L875.6 2143.8 L878.6 2141.5 L881.6 2139.2 L884.6 2136.9 L887.6 2134.6 L890.6 2132.3 L893.6 2130.0 L896.6 2127.7 L899.6 2125.4 L902.6 2123.2 L905.6 2120.9 L908.6 2118.6 L911.6 2116.4 L914.6 2114.1 L917.6 2111.9 L920.6 2109.6 L923.6 2107.4 L926.6 2105.2 L929.6 2103.0 L932.6 2100.8 L935.6 2098.6 L938.5 2096.4 L941.5 2094.2 L944.5 2092.0 L947.5 2089.9 L950.5 2087.7 L953.5 2085.6 L956.5 2083.5 L959.5 2081.3 L962.5 2079.2 L965.5 2077.1 L968.5 2075.0 L971.5 2072.9 L974.5 2070.9 L977.5 2068.8 L980.5 2066.7 L983.5 2064.7 L986.5 2062.7 L989.5 2060.7 L992.5 2058.6 L995.5 2056.6 L998.5 2054.6 L1001.5 2052.7 L1004.4 2050.7 L1007.4 2048.7 L1010.4 2046.8 L1013.4 2044.8 L1016.4 2042.9 L1019.4 2041.0 L1022.4 2039.1 L1025.4 2037.2 L1028.4 2035.3 L1031.4 2033.4 L1034.4 2031.5 L1037.4 2029.7 L1040.4 2027.8 L1043.4 2026.0 L1046.4 2024.1 L1049.4 2022.3 L1052.4 2020.5 L1055.4 2018.7 L1058.4 2016.9 L1061.4 2015.1 L1064.4 2013.3 L1067.4 2011.5 L1070.3 2009.8 L1073.3 2008.0 L1076.3 2006.3 L1079.3 2004.5 L1082.3 2002.8 L1085.3 2001.1 L1088.3 1999.4 L1091.3 1997.7 L1094.3 1996.0 L1097.3 1994.3 L1100.3 1992.6 L1103.3 1991.0 L1106.3 1989.3 L1109.3 1987.7 L1112.3 1986.0 L1115.3 1984.4 L1118.3 1982.8 L1121.3 1981.2 L1124.3 1979.6 L1127.3 1978.0 L1130.3 1976.4 L1133.3 1974.8 L1136.2 1973.2 L1139.2 1971.7 L1142.2 1970.1 L1145.2 1968.6 L1148.2 1967.0 L1151.2 1965.5 L1154.2 1964.0 L1157.2 1962.5 L1160.2 1961.0 L1163.2 1959.5 L1166.2 1958.0 L1169.2 1956.5 L1172.2 1955.0 L1175.2 1953.6 L1178.2 1952.1 L1181.2 1950.7 L1184.2 1949.2 L1187.2 1947.8 L1190.2 1946.4 L1193.2 1945.0 L1196.2 1943.5 L1199.2 1942.1 L1202.1 1940.7 L1205.1 1939.4 L1208.1 1938.0 L1211.1 1936.6 L1214.1 1935.3 L1217.1 1933.9 L1220.1 1932.6 L1223.1 1931.2 L1226.1 1929.9 L1229.1 1928.6 L1232.1 1927.2 L1235.1 1925.9 L1238.1 1924.6 L1241.1 1923.3 L1244.1 1922.1 L1247.1 1920.8 L1250.1 1919.5 L1253.1 1918.2 L1256.1 1917.0 L1259.1 1915.7 L1262.1 1914.5 L1265.1 1913.3 L1268.0 1912.0 L1271.0 1910.8 L1274.0 1909.6 L1277.0 1908.4 L1280.0 1907.2 L1283.0 1906.0 L1286.0 1904.8 L1289.0 1903.7 L1292.0 1902.5 L1295.0 1901.3 L1298.0 1900.2 L1301.0 1899.0 L1304.0 1897.9 L1307.0 1896.8 L1310.0 1895.6 L1313.0 1894.5 L1316.0 1893.4 L1319.0 1892.3 L1322.0 1891.2 L1325.0 1890.1 L1328.0 1889.1 L1331.0 1888.0 L1333.9 1886.9 L1336.9 1885.9 L1339.9 1884.8 L1342.9 1883.8 L1345.9 1882.7 L1348.9 1881.7 L1351.9 1880.7 L1354.9 1879.6 L1357.9 1878.6 L1360.9 1877.6 L1363.9 1876.6 L1366.9 1875.6 L1369.9 1874.6 L1372.9 1873.7 L1375.9 1872.7 L1378.9 1871.7 L1381.9 1870.8 L1384.9 1869.8 L1387.9 1868.9 L1390.9 1867.9 L1393.9 1867.0 L1396.9 1866.1 L1399.8 1865.2 L1402.8 1864.3 L1405.8 1863.4 L1408.8 1862.5 L1411.8 1861.6 L1414.8 1860.7 L1417.8 1859.8 L1420.8 1859.0 L1423.8 1858.1 L1426.8 1857.2 L1429.8 1856.4 L1432.8 1855.5 L1435.8 1854.7 L1438.8 1853.9 L1441.8 1853.1 L1444.8 1852.2 L1447.8 1851.4 L1450.8 1850.6 L1453.8 1849.8 L1456.8 1849.0 L1459.8 1848.3 L1462.8 1847.5 L1465.7 1846.7 L1468.7 1845.9 L1471.7 1845.2 L1474.7 1844.4 L1477.7 1843.7 L1480.7 1842.9 L1483.7 1842.2 L1486.7 1841.5 L1489.7 1840.7 L1492.7 1840.0 L1495.7 1839.3 L1498.7 1838.6 L1501.7 1837.9 L1504.7 1837.2 L1507.7 1836.5 L1510.7 1835.8 L1513.7 1835.1 L1516.7 1834.5 L1519.7 1833.8 L1522.7 1833.1 L1525.7 1832.5 L1528.7 1831.8 L1531.6 1831.2 L1534.6 1830.5 L1537.6 1829.9 L1540.6 1829.3 L1543.6 1828.6 L1546.6 1828.0 L1549.6 1827.4 L1552.6 1826.8 L1555.6 1826.2 L1558.6 1825.6 L1561.6 1825.0 L1564.6 1824.4 L1567.6 1823.8 L1570.6 1823.2 L1573.6 1822.7 L1576.6 1822.1 L1579.6 1821.5 L1582.6 1821.0 L1585.6 1820.4 L1588.6 1819.9 L1591.6 1819.3 L1594.6 1818.8 L1597.5 1818.3 L1600.5 1817.7 L1603.5 1817.2 L1606.5 1816.7 L1609.5 1816.2 L1612.5 1815.7 L1615.5 1815.1 L1618.5 1814.6 L1621.5 1814.1 L1624.5 1813.7 L1627.5 1813.2 L1630.5 1812.7 L1633.5 1812.2 L1636.5 1811.7 L1639.5 1811.3 L1642.5 1810.8 L1645.5 1810.3 L1648.5 1809.9 L1651.5 1809.4 L1654.5 1809.0 L1657.5 1808.5 L1660.5 1808.1 L1663.4 1807.7 L1666.4 1807.2 L1669.4 1806.8 L1672.4 1806.4 L1675.4 1806.0 L1678.4 1805.6 L1681.4 1805.1 L1684.4 1804.7 L1687.4 1804.3 L1690.4 1803.9 L1693.4 1803.6 L1696.4 1803.2 L1699.4 1802.8 L1702.4 1802.4 L1705.4 1802.0 L1708.4 1801.7 L1711.4 1801.3 L1714.4 1800.9 L1717.4 1800.6 L1720.4 1800.2 L1723.4 1799.8 L1726.4 1799.5 L1729.3 1799.2 L1732.3 1798.8 L1735.3 1798.5 L1738.3 1798.1 L1741.3 1797.8 L1744.3 1797.5 L1747.3 1797.2 L1750.3 1796.8 L1753.3 1796.5 L1756.3 1796.2 L1759.3 1795.9 L1762.3 1795.6 L1765.3 1795.3 L1768.3 1795.0 L1771.3 1794.7 L1774.3 1794.4 L1777.3 1794.1 L1780.3 1793.9 L1783.3 1793.6 L1786.3 1793.3 L1789.3 1793.0 L1792.3 1792.8 L1795.2 1792.5 L1798.2 1792.2 L1801.2 1792.0 L1804.2 1791.7 L1807.2 1791.5 L1810.2 1791.2 L1813.2 1791.0 L1816.2 1790.7 L1819.2 1790.5 L1822.2 1790.2 L1825.2 1790.0" stroke="#ff0000" stroke-width="8" fill="none" stroke-linecap="butt" stroke-linejoin="round" stroke-dasharray="31 30.6"/>
<path d="M313.2 1988.90L328.9 1988.87M344.4 1988.84L360.1 1988.81M375.5 1988.78L391.2 1988.75M406.7 1988.73L422.4 1988.70M437.9 1988.67L453.6 1988.64M469.1 1988.61L484.8 1988.58M500.2 1988.55L515.9 1988.52M527.1 1988.50L536.8 1988.48M553.2 1988.45L569.0 1988.43M584.4 1988.40L600.2 1988.37M615.6 1988.34L631.4 1988.31M646.8 1988.28L662.6 1988.25M678.0 1988.22L693.8 1988.19M709.2 1988.17L725.0 1988.14M740.4 1988.11L756.2 1988.08M771.6 1988.05L787.4 1988.02M802.8 1987.99L818.6 1987.96M834.0 1987.93L849.8 1987.91M865.2 1987.88L881.0 1987.85M896.4 1987.82L912.2 1987.79M927.6 1987.76L943.4 1987.73M958.8 1987.70L974.6 1987.67M990.0 1987.65L1005.8 1987.62M1021.2 1987.59L1037.0 1987.56M1052.4 1987.53L1068.2 1987.50M1083.6 1987.47L1099.4 1987.44M1114.8 1987.41L1130.6 1987.39M1146.0 1987.36L1161.8 1987.33M1177.2 1987.30L1193.0 1987.27M1208.4 1987.24L1224.2 1987.21M1239.6 1987.18L1255.4 1987.15M1270.8 1987.13L1286.6 1987.10M1302.0 1987.07L1317.8 1987.04M1333.2 1987.01L1349.0 1986.98M1364.4 1986.95L1380.2 1986.92M1395.6 1986.90L1411.4 1986.87M1426.8 1986.84L1442.6 1986.81M1458.0 1986.78L1473.8 1986.75M1489.2 1986.72L1505.0 1986.69M1520.4 1986.66L1536.2 1986.63M1551.6 1986.61L1567.4 1986.58M1582.8 1986.55L1598.6 1986.52M1614.0 1986.49L1629.8 1986.46M1645.2 1986.43L1661.0 1986.40M1676.4 1986.38L1692.2 1986.35M1707.6 1986.32L1723.4 1986.29M1738.8 1986.26L1754.6 1986.23M1770.0 1986.20L1785.8 1986.17M1801.2 1986.14L1817.0 1986.12" stroke="#000" stroke-width="4" fill="none"/>
<text x="292.0" y="1785.2" font-family="'Liberation Sans',Arial,Helvetica,sans-serif" font-size="57.4" fill="#262626" text-anchor="end">200</text>
<text x="292.0" y="2008.3" font-family="'Liberation Sans',Arial,Helvetica,sans-serif" font-size="57.4" fill="#262626" text-anchor="end">0</text>
<text x="292.0" y="2231.5" font-family="'Liberation Sans',Arial,Helvetica,sans-serif" font-size="57.4" fill="#262626" text-anchor="end">-200</text>
<text x="292.0" y="2454.6" font-family="'Liberation Sans',Arial,Helvetica,sans-serif" font-size="57.4" fill="#262626" text-anchor="end">-400</text>
<text x="292.0" y="2677.7" font-family="'Liberation Sans',Arial,Helvetica,sans-serif" font-size="57.4" fill="#262626" text-anchor="end">-600</text>
<text x="292.0" y="2900.9" font-family="'Liberation Sans',Arial,Helvetica,sans-serif" font-size="57.4" fill="#262626" text-anchor="end">-800</text>
<text x="292.0" y="3124.0" font-family="'Liberation Sans',Arial,Helvetica,sans-serif" font-size="57.4" fill="#262626" text-anchor="end">-1000</text>
<text x="312.5" y="3179.6" font-family="'Liberation Sans',Arial,Helvetica,sans-serif" font-size="57.4" fill="#262626" text-anchor="middle">1.1</text>
<text x="690.7" y="3179.6" font-family="'Liberation Sans',Arial,Helvetica,sans-serif" font-size="57.4" fill="#262626" text-anchor="middle">1.3</text>
<text x="1068.8" y="3179.6" font-family="'Liberation Sans',Arial,Helvetica,sans-serif" font-size="57.4" fill="#262626" text-anchor="middle">1.5</text>
<text x="1447.0" y="3179.6" font-family="'Liberation Sans',Arial,Helvetica,sans-serif" font-size="57.4" fill="#262626" text-anchor="middle">1.7</text>
<text x="1825.2" y="3179.6" font-family="'Liberation Sans',Arial,Helvetica,sans-serif" font-size="57.4" fill="#262626" text-anchor="middle">1.9</text>
<rect x="1204.5" y="573.6" width="440" height="440.9" fill="#fff" stroke="#262626" stroke-width="2"/>
<path d="M1233.0 629.2H1368.3" stroke="#ff0000" stroke-width="8" fill="none" stroke-dasharray="31 30.6"/>
<path d="M1234.9 712.0H1370.9" stroke="#0000ff" stroke-width="8" fill="none"/>
<path d="M1231.0 794.2H1363.1" stroke="#008000" stroke-width="8" fill="none" stroke-dasharray="7.5 7.8"/>
<path d="M1235.1 874.8H1370.9" stroke="#ff00ff" stroke-width="8" fill="none" stroke-dasharray="31 7.8 16 7.8"/>
<path d="M1231.0 959.0H1367.0" stroke="#ffd700" stroke-width="8" fill="none"/>
<text x="1381.3" y="636.5" font-family="'Liberation Sans',Arial,Helvetica,sans-serif" font-size="45.8" fill="#000">d</text>
<text x="1407.3" y="658.1" font-family="'Liberation Sans',Arial,Helvetica,sans-serif" font-size="31.0" fill="#000">c</text>
<text x="1423.7" y="636.5" font-family="'Liberation Sans',Arial,Helvetica,sans-serif" font-size="45.8" fill="#000">/</text>
<text transform="translate(1438.0 636.5) scale(0.82 1)" font-family="'Liberation Serif',serif" font-size="45.8">&#923;</text>
<text x="1466.8" y="636.5" font-family="'Liberation Sans',Arial,Helvetica,sans-serif" font-size="45.8" fill="#000">=</text>
<text x="1497.2" y="636.5" font-family="'Liberation Sans',Arial,Helvetica,sans-serif" font-size="45.8" fill="#000">1.01</text>
<text x="1383.1" y="719.0" font-family="'Liberation Sans',Arial,Helvetica,sans-serif" font-size="45.8" fill="#000">d</text>
<text x="1409.1" y="740.6" font-family="'Liberation Sans',Arial,Helvetica,sans-serif" font-size="31.0" fill="#000">c</text>
<text x="1425.5" y="719.0" font-family="'Liberation Sans',Arial,Helvetica,sans-serif" font-size="45.8" fill="#000">/</text>
<text transform="translate(1439.8 719.0) scale(0.82 1)" font-family="'Liberation Serif',serif" font-size="45.8">&#923;</text>
<text x="1468.6" y="719.0" font-family="'Liberation Sans',Arial,Helvetica,sans-serif" font-size="45.8" fill="#000">=</text>
<text x="1500.2" y="719.0" font-family="'Liberation Sans',Arial,Helvetica,sans-serif" font-size="45.8" fill="#000">0.99</text>
<text x="1380.0" y="801.5" font-family="'Liberation Sans',Arial,Helvetica,sans-serif" font-size="45.8" fill="#000">d</text>
<text x="1406.0" y="823.1" font-family="'Liberation Sans',Arial,Helvetica,sans-serif" font-size="31.0" fill="#000">c</text>
<text x="1422.4" y="801.5" font-family="'Liberation Sans',Arial,Helvetica,sans-serif" font-size="45.8" fill="#000">/</text>
<text transform="translate(1436.7 801.5) scale(0.82 1)" font-family="'Liberation Serif',serif" font-size="45.8">&#923;</text>
<text x="1465.5" y="801.5" font-family="'Liberation Sans',Arial,Helvetica,sans-serif" font-size="45.8" fill="#000">=</text>
<text x="1502.2" y="801.5" font-family="'Liberation Sans',Arial,Helvetica,sans-serif" font-size="45.8" fill="#000">0.97</text>
<text x="1383.9" y="882.0" font-family="'Liberation Sans',Arial,Helvetica,sans-serif" font-size="45.8" fill="#000">d</text>
<text x="1409.9" y="903.6" font-family="'Liberation Sans',Arial,Helvetica,sans-serif" font-size="31.0" fill="#000">c</text>
<text x="1426.3" y="882.0" font-family="'Liberation Sans',Arial,Helvetica,sans-serif" font-size="45.8" fill="#000">/</text>
<text transform="translate(1440.6 882.0) scale(0.82 1)" font-family="'Liberation Serif',serif" font-size="45.8">&#923;</text>
<text x="1469.4" y="882.0" font-family="'Liberation Sans',Arial,Helvetica,sans-serif" font-size="45.8" fill="#000">=</text>
<text x="1505.4" y="882.0" font-family="'Liberation Sans',Arial,Helvetica,sans-serif" font-size="45.8" fill="#000">0.95</text>
<text x="1380.0" y="965.5" font-family="'Liberation Sans',Arial,Helvetica,sans-serif" font-size="45.8" fill="#000">d</text>
<text x="1406.0" y="987.1" font-family="'Liberation Sans',Arial,Helvetica,sans-serif" font-size="31.0" fill="#000">c</text>
<text x="1422.4" y="965.5" font-family="'Liberation Sans',Arial,Helvetica,sans-serif" font-size="45.8" fill="#000">/</text>
<text transform="translate(1436.7 965.5) scale(0.82 1)" font-family="'Liberation Serif',serif" font-size="45.8">&#923;</text>
<text x="1465.5" y="965.5" font-family="'Liberation Sans',Arial,Helvetica,sans-serif" font-size="45.8" fill="#000">=</text>
<text x="1508.0" y="965.5" font-family="'Liberation Sans',Arial,Helvetica,sans-serif" font-size="45.8" fill="#000">0.93</text>
<rect x="1268.7" y="2241" width="398.8" height="347.6" fill="#fff" stroke="#262626" stroke-width="2"/>
<path d="M1292.9 2281.5H1385.8" stroke="#ff0000" stroke-width="8" fill="none" stroke-dasharray="31 30.6"/>
<path d="M1295.3 2345.7H1417.2" stroke="#0000ff" stroke-width="8" fill="none"/>
<path d="M1293.4 2414.7H1410.5" stroke="#008000" stroke-width="8" fill="none" stroke-dasharray="7.5 7.8"/>
<path d="M1296.6 2477.6H1413.1" stroke="#ff00ff" stroke-width="8" fill="none" stroke-dasharray="31 7.8 16 7.8"/>
<path d="M1297.4 2545.8H1419.3" stroke="#ffd700" stroke-width="8" fill="none"/>
<text x="1425.4" y="2301.1" font-family="'Liberation Sans',Arial,Helvetica,sans-serif" font-size="51.6" fill="#000" xml:space="preserve">b/a = 0.79</text>
<text x="1427.2" y="2365.4" font-family="'Liberation Sans',Arial,Helvetica,sans-serif" font-size="51.6" fill="#000" xml:space="preserve">b/a = 0.77</text>
<text x="1425.4" y="2434.6" font-family="'Liberation Sans',Arial,Helvetica,sans-serif" font-size="51.6" fill="#000" xml:space="preserve">b/a = 0.75</text>
<text x="1428.9" y="2497.5" font-family="'Liberation Sans',Arial,Helvetica,sans-serif" font-size="51.6" fill="#000" xml:space="preserve">b/a = 0.73</text>
<text x="1429.4" y="2564.8" font-family="'Liberation Sans',Arial,Helvetica,sans-serif" font-size="51.6" fill="#000" xml:space="preserve">b/a = 0.71</text>
<text x="588.8" y="1018.4" font-family="'Liberation Serif','Times New Roman',serif" font-size="88.6" font-weight="bold" fill="#000">C-PCF</text>
<text x="611.2" y="2651.2" font-family="'Liberation Serif','Times New Roman',serif" font-size="88.4" font-weight="bold" fill="#000">E-PCF</text>
<text x="48.6" y="102.2" font-family="'Liberation Serif','Times New Roman',serif" font-size="88.0" font-weight="bold" fill="#000">(</text>
<text x="82.3" y="102.2" font-family="'Liberation Serif','Times New Roman',serif" font-size="86.0" font-weight="bold" fill="#000">a</text>
<text x="123.1" y="102.2" font-family="'Liberation Serif','Times New Roman',serif" font-size="88.0" font-weight="bold" fill="#000">)</text>
<text x="48.9" y="1722.7" font-family="'Liberation Serif','Times New Roman',serif" font-size="88.0" font-weight="bold" fill="#000">(</text>
<text x="89.9" y="1722.7" font-family="'Liberation Serif','Times New Roman',serif" font-size="86.0" font-weight="bold" fill="#000">b</text>
<text x="136.4" y="1722.7" font-family="'Liberation Serif','Times New Roman',serif" font-size="88.0" font-weight="bold" fill="#000">)</text>
<text x="758.2" y="1627.5" font-family="'Liberation Serif','Times New Roman',serif" font-size="77.2" fill="#000">Wavelength</text>
<text x="1155.0" y="1623.7" font-family="'Liberation Sans',Arial,Helvetica,sans-serif" font-size="60.0" fill="#262626">(</text>
<text x="1177.5" y="1623.7" font-family="'Liberation Serif','Times New Roman',serif" font-size="60.0" font-style="italic" fill="#262626">&#956;</text>
<text x="1212.9" y="1623.7" font-family="'Liberation Sans',Arial,Helvetica,sans-serif" font-size="60.0" fill="#262626">m</text>
<text x="1267.1" y="1623.7" font-family="'Liberation Sans',Arial,Helvetica,sans-serif" font-size="60.0" fill="#262626">)</text>
<text x="833.8" y="3255.4" font-family="'Liberation Serif','Times New Roman',serif" font-size="77.2" fill="#000">Wavelength</text>
<text x="1228.6" y="3251.6" font-family="'Liberation Sans',Arial,Helvetica,sans-serif" font-size="60.0" fill="#262626">(</text>
<text x="1251.1" y="3251.6" font-family="'Liberation Serif','Times New Roman',serif" font-size="60.0" font-style="italic" fill="#262626">&#956;</text>
<text x="1286.5" y="3251.6" font-family="'Liberation Sans',Arial,Helvetica,sans-serif" font-size="60.0" fill="#262626">m</text>
<text x="1340.7" y="3251.6" font-family="'Liberation Sans',Arial,Helvetica,sans-serif" font-size="60.0" fill="#262626">)</text>
<text transform="translate(133.0 1100.5) rotate(-90)" font-family="'Liberation Serif',serif" font-size="92.2" xml:space="preserve">D [ps / (nm km)]</text>
<text transform="translate(104.8 2744.6) rotate(-90)" font-family="'Liberation Serif',serif" font-size="92.2" xml:space="preserve">D [ps / (nm km)]</text>
</svg>
</body></html>
